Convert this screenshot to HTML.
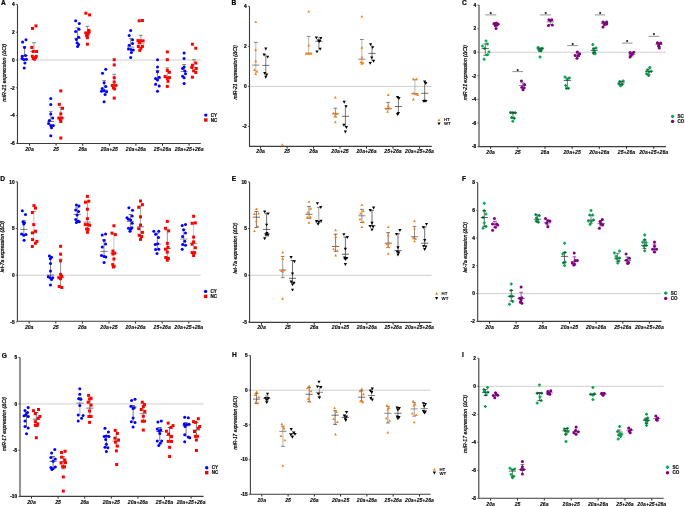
<!DOCTYPE html><html><head><meta charset="utf-8"><style>html,body{margin:0;padding:0;background:#fff;width:685px;height:506px;overflow:hidden}svg{display:block;will-change:transform}</style></head><body>
<svg width="685" height="506" viewBox="0 0 685 506" font-family='"Liberation Sans", sans-serif'>
<rect width="685" height="506" fill="#fff"/>
<line x1="17.5" y1="60.0" x2="200.8" y2="60.0" stroke="#c8c8c8" stroke-width="0.9"/>
<text x="3.5" y="4.8" font-size="6.6" font-weight="bold" text-anchor="middle" fill="#000" stroke="#000" stroke-width="0.2">A</text>
<line x1="15.9" y1="4.4" x2="17.5" y2="4.4" stroke="#3a3a3a" stroke-width="0.8"/>
<text x="14.7" y="6.1" font-size="4.8" font-weight="bold" text-anchor="end" fill="#000" stroke="#000" stroke-width="0.2">4</text>
<line x1="15.9" y1="32.2" x2="17.5" y2="32.2" stroke="#3a3a3a" stroke-width="0.8"/>
<text x="14.7" y="33.9" font-size="4.8" font-weight="bold" text-anchor="end" fill="#000" stroke="#000" stroke-width="0.2">2</text>
<line x1="15.9" y1="60.0" x2="17.5" y2="60.0" stroke="#3a3a3a" stroke-width="0.8"/>
<text x="14.7" y="61.7" font-size="4.8" font-weight="bold" text-anchor="end" fill="#000" stroke="#000" stroke-width="0.2">0</text>
<line x1="15.9" y1="87.8" x2="17.5" y2="87.8" stroke="#3a3a3a" stroke-width="0.8"/>
<text x="14.7" y="89.5" font-size="4.8" font-weight="bold" text-anchor="end" fill="#000" stroke="#000" stroke-width="0.2">-2</text>
<line x1="15.9" y1="115.6" x2="17.5" y2="115.6" stroke="#3a3a3a" stroke-width="0.8"/>
<text x="14.7" y="117.3" font-size="4.8" font-weight="bold" text-anchor="end" fill="#000" stroke="#000" stroke-width="0.2">-4</text>
<line x1="15.9" y1="143.3" x2="17.5" y2="143.3" stroke="#3a3a3a" stroke-width="0.8"/>
<text x="14.7" y="145.0" font-size="4.8" font-weight="bold" text-anchor="end" fill="#000" stroke="#000" stroke-width="0.2">-6</text>
<line x1="29.5" y1="143.5" x2="29.5" y2="145.7" stroke="#222" stroke-width="1.0"/>
<text x="29.5" y="150.6" font-size="5.15" font-weight="bold" font-style="italic" text-anchor="middle" fill="#000" stroke="#000" stroke-width="0.08">20a</text>
<line x1="56.1" y1="143.5" x2="56.1" y2="145.7" stroke="#222" stroke-width="1.0"/>
<text x="56.1" y="150.6" font-size="5.15" font-weight="bold" font-style="italic" text-anchor="middle" fill="#000" stroke="#000" stroke-width="0.08">25</text>
<line x1="82.7" y1="143.5" x2="82.7" y2="145.7" stroke="#222" stroke-width="1.0"/>
<text x="82.7" y="150.6" font-size="5.15" font-weight="bold" font-style="italic" text-anchor="middle" fill="#000" stroke="#000" stroke-width="0.08">26a</text>
<line x1="109.3" y1="143.5" x2="109.3" y2="145.7" stroke="#222" stroke-width="1.0"/>
<text x="109.3" y="150.6" font-size="5.15" font-weight="bold" font-style="italic" text-anchor="middle" fill="#000" stroke="#000" stroke-width="0.08">20a+25</text>
<line x1="135.9" y1="143.5" x2="135.9" y2="145.7" stroke="#222" stroke-width="1.0"/>
<text x="135.9" y="150.6" font-size="5.15" font-weight="bold" font-style="italic" text-anchor="middle" fill="#000" stroke="#000" stroke-width="0.08">20a+26a</text>
<line x1="162.5" y1="143.5" x2="162.5" y2="145.7" stroke="#222" stroke-width="1.0"/>
<text x="162.5" y="150.6" font-size="5.15" font-weight="bold" font-style="italic" text-anchor="middle" fill="#000" stroke="#000" stroke-width="0.08">25+26a</text>
<line x1="189.1" y1="143.5" x2="189.1" y2="145.7" stroke="#222" stroke-width="1.0"/>
<text x="189.1" y="150.6" font-size="5.15" font-weight="bold" font-style="italic" text-anchor="middle" fill="#000" stroke="#000" stroke-width="0.08">20a+25+26a</text>
<path d="M17.50 4.4V143.50H200.8" fill="none" stroke="#3c3c3c" stroke-width="1.1"/>
<text transform="translate(6.0,72.7) rotate(-90)" x="-29.0" y="0" font-size="5.30" font-style="italic" font-weight="normal" textLength="58.0" lengthAdjust="spacingAndGlyphs" fill="#000" stroke="#000" stroke-width="0.22">miR-21 expression (ΔCt)</text>
<circle cx="205.8" cy="115.1" r="1.70" fill="#0000ff"/>
<rect x="204.1" y="118.3" width="3.4" height="3.4" fill="#ff0000"/>
<text x="210.8" y="116.6" font-size="4.5" font-weight="bold" fill="#111" stroke="#111" stroke-width="0.2">CY</text>
<text x="210.8" y="121.6" font-size="4.5" font-weight="bold" fill="#111" stroke="#111" stroke-width="0.2">NC</text>
<path d="M24.5 46.5V55.5" stroke="#555" stroke-width="0.65" fill="none"/>
<path d="M20.9 55.5H28.1M22.6 46.5H26.4" stroke="#555" stroke-width="0.7" fill="none"/>
<circle cx="22.6" cy="42.0" r="1.52" fill="#0000ff"/>
<circle cx="26.0" cy="39.8" r="1.52" fill="#0000ff"/>
<circle cx="24.5" cy="47.5" r="1.52" fill="#0000ff"/>
<circle cx="22.3" cy="56.3" r="1.52" fill="#0000ff"/>
<circle cx="25.5" cy="55.6" r="1.52" fill="#0000ff"/>
<circle cx="22.0" cy="58.5" r="1.52" fill="#0000ff"/>
<circle cx="23.8" cy="59.6" r="1.52" fill="#0000ff"/>
<circle cx="26.4" cy="59.2" r="1.52" fill="#0000ff"/>
<circle cx="24.9" cy="62.9" r="1.52" fill="#0000ff"/>
<circle cx="24.2" cy="68.0" r="1.52" fill="#0000ff"/>
<path d="M34.0 42.7V51.5" stroke="#777" stroke-width="0.7" fill="none"/>
<path d="M30.4 51.5H37.6M32.1 42.7H35.9" stroke="#555" stroke-width="0.7" fill="none"/>
<rect x="31.0" y="27.0" width="3.0" height="3.0" fill="#ff0000"/>
<rect x="34.4" y="24.4" width="3.0" height="3.0" fill="#ff0000"/>
<rect x="30.3" y="46.0" width="3.0" height="3.0" fill="#ff0000"/>
<rect x="31.8" y="50.0" width="3.0" height="3.0" fill="#ff0000"/>
<rect x="35.1" y="50.0" width="3.0" height="3.0" fill="#ff0000"/>
<rect x="30.8" y="54.8" width="3.0" height="3.0" fill="#ff0000"/>
<rect x="34.7" y="54.8" width="3.0" height="3.0" fill="#ff0000"/>
<rect x="31.8" y="57.0" width="3.0" height="3.0" fill="#ff0000"/>
<rect x="33.2" y="57.7" width="3.0" height="3.0" fill="#ff0000"/>
<rect x="34.0" y="56.0" width="3.0" height="3.0" fill="#ff0000"/>
<path d="M50.8 111.7V121.5" stroke="#555" stroke-width="0.65" fill="none"/>
<path d="M47.2 121.5H54.4M48.9 111.7H52.7" stroke="#555" stroke-width="0.7" fill="none"/>
<circle cx="50.8" cy="98.5" r="1.52" fill="#0000ff"/>
<circle cx="50.8" cy="104.4" r="1.52" fill="#0000ff"/>
<circle cx="50.8" cy="113.9" r="1.52" fill="#0000ff"/>
<circle cx="52.7" cy="118.0" r="1.52" fill="#0000ff"/>
<circle cx="49.4" cy="120.4" r="1.52" fill="#0000ff"/>
<circle cx="48.6" cy="123.4" r="1.52" fill="#0000ff"/>
<circle cx="50.8" cy="125.6" r="1.52" fill="#0000ff"/>
<circle cx="53.3" cy="125.6" r="1.52" fill="#0000ff"/>
<circle cx="51.5" cy="127.7" r="1.52" fill="#0000ff"/>
<circle cx="50.8" cy="135.8" r="1.52" fill="#0000ff"/>
<path d="M60.8 107.3V118.0" stroke="#777" stroke-width="0.7" fill="none"/>
<path d="M57.2 118.0H64.4M58.9 107.3H62.7" stroke="#555" stroke-width="0.7" fill="none"/>
<rect x="59.3" y="89.4" width="3.0" height="3.0" fill="#ff0000"/>
<rect x="57.8" y="102.9" width="3.0" height="3.0" fill="#ff0000"/>
<rect x="61.0" y="106.8" width="3.0" height="3.0" fill="#ff0000"/>
<rect x="59.3" y="112.4" width="3.0" height="3.0" fill="#ff0000"/>
<rect x="57.4" y="116.5" width="3.0" height="3.0" fill="#ff0000"/>
<rect x="60.3" y="116.5" width="3.0" height="3.0" fill="#ff0000"/>
<rect x="58.8" y="118.2" width="3.0" height="3.0" fill="#ff0000"/>
<rect x="59.3" y="120.0" width="3.0" height="3.0" fill="#ff0000"/>
<rect x="59.3" y="136.5" width="3.0" height="3.0" fill="#ff0000"/>
<path d="M77.5 27.8V38.3" stroke="#555" stroke-width="0.65" fill="none"/>
<path d="M73.9 38.3H81.1M75.6 27.8H79.4" stroke="#555" stroke-width="0.7" fill="none"/>
<circle cx="75.7" cy="20.8" r="1.52" fill="#0000ff"/>
<circle cx="79.3" cy="23.4" r="1.52" fill="#0000ff"/>
<circle cx="79.0" cy="29.2" r="1.52" fill="#0000ff"/>
<circle cx="75.7" cy="31.4" r="1.52" fill="#0000ff"/>
<circle cx="78.6" cy="37.3" r="1.52" fill="#0000ff"/>
<circle cx="76.4" cy="39.5" r="1.52" fill="#0000ff"/>
<circle cx="77.1" cy="42.7" r="1.52" fill="#0000ff"/>
<circle cx="78.6" cy="44.6" r="1.52" fill="#0000ff"/>
<circle cx="77.6" cy="46.5" r="1.52" fill="#0000ff"/>
<path d="M87.5 26.3V32.9" stroke="#777" stroke-width="0.7" fill="none"/>
<path d="M83.9 32.9H91.1M85.6 26.3H89.4" stroke="#555" stroke-width="0.7" fill="none"/>
<rect x="84.4" y="11.7" width="3.0" height="3.0" fill="#ff0000"/>
<rect x="88.1" y="13.4" width="3.0" height="3.0" fill="#ff0000"/>
<rect x="87.3" y="28.9" width="3.0" height="3.0" fill="#ff0000"/>
<rect x="84.4" y="31.4" width="3.0" height="3.0" fill="#ff0000"/>
<rect x="85.9" y="32.9" width="3.0" height="3.0" fill="#ff0000"/>
<rect x="85.1" y="34.3" width="3.0" height="3.0" fill="#ff0000"/>
<rect x="85.9" y="36.2" width="3.0" height="3.0" fill="#ff0000"/>
<rect x="87.5" y="30.0" width="3.0" height="3.0" fill="#ff0000"/>
<rect x="86.7" y="32.0" width="3.0" height="3.0" fill="#ff0000"/>
<rect x="85.9" y="42.7" width="3.0" height="3.0" fill="#ff0000"/>
<path d="M104.2 80.6V90.1" stroke="#555" stroke-width="0.65" fill="none"/>
<path d="M100.6 90.1H107.8M102.3 80.6H106.1" stroke="#555" stroke-width="0.7" fill="none"/>
<circle cx="105.8" cy="69.2" r="1.52" fill="#0000ff"/>
<circle cx="102.5" cy="73.3" r="1.52" fill="#0000ff"/>
<circle cx="104.1" cy="82.8" r="1.52" fill="#0000ff"/>
<circle cx="105.8" cy="86.4" r="1.52" fill="#0000ff"/>
<circle cx="102.2" cy="88.6" r="1.52" fill="#0000ff"/>
<circle cx="101.5" cy="91.3" r="1.52" fill="#0000ff"/>
<circle cx="104.1" cy="90.8" r="1.52" fill="#0000ff"/>
<circle cx="106.6" cy="91.8" r="1.52" fill="#0000ff"/>
<circle cx="105.1" cy="94.5" r="1.52" fill="#0000ff"/>
<circle cx="104.1" cy="101.8" r="1.52" fill="#0000ff"/>
<path d="M114.2 74.3V85.7" stroke="#777" stroke-width="0.7" fill="none"/>
<path d="M110.6 85.7H117.8M112.3 74.3H116.1" stroke="#555" stroke-width="0.7" fill="none"/>
<rect x="112.7" y="58.2" width="3.0" height="3.0" fill="#ff0000"/>
<rect x="112.7" y="63.4" width="3.0" height="3.0" fill="#ff0000"/>
<rect x="112.7" y="76.2" width="3.0" height="3.0" fill="#ff0000"/>
<rect x="112.7" y="80.5" width="3.0" height="3.0" fill="#ff0000"/>
<rect x="110.9" y="83.9" width="3.0" height="3.0" fill="#ff0000"/>
<rect x="114.3" y="83.9" width="3.0" height="3.0" fill="#ff0000"/>
<rect x="112.0" y="86.4" width="3.0" height="3.0" fill="#ff0000"/>
<rect x="113.1" y="87.4" width="3.0" height="3.0" fill="#ff0000"/>
<rect x="112.7" y="96.6" width="3.0" height="3.0" fill="#ff0000"/>
<path d="M130.7 38.7V47.1" stroke="#555" stroke-width="0.65" fill="none"/>
<path d="M127.1 47.1H134.3M128.8 38.7H132.6" stroke="#555" stroke-width="0.7" fill="none"/>
<circle cx="130.7" cy="30.4" r="1.52" fill="#0000ff"/>
<circle cx="129.2" cy="35.5" r="1.52" fill="#0000ff"/>
<circle cx="132.5" cy="39.8" r="1.52" fill="#0000ff"/>
<circle cx="132.5" cy="43.6" r="1.52" fill="#0000ff"/>
<circle cx="129.2" cy="45.3" r="1.52" fill="#0000ff"/>
<circle cx="128.5" cy="49.0" r="1.52" fill="#0000ff"/>
<circle cx="131.0" cy="49.4" r="1.52" fill="#0000ff"/>
<circle cx="133.3" cy="50.0" r="1.52" fill="#0000ff"/>
<circle cx="131.4" cy="52.6" r="1.52" fill="#0000ff"/>
<circle cx="130.7" cy="57.5" r="1.52" fill="#0000ff"/>
<path d="M140.8 35.4V43.9" stroke="#777" stroke-width="0.7" fill="none"/>
<path d="M137.2 43.9H144.4M138.9 35.4H142.7" stroke="#555" stroke-width="0.7" fill="none"/>
<rect x="137.7" y="19.3" width="3.0" height="3.0" fill="#ff0000"/>
<rect x="140.9" y="19.0" width="3.0" height="3.0" fill="#ff0000"/>
<rect x="136.5" y="39.1" width="3.0" height="3.0" fill="#ff0000"/>
<rect x="139.1" y="39.4" width="3.0" height="3.0" fill="#ff0000"/>
<rect x="141.6" y="39.4" width="3.0" height="3.0" fill="#ff0000"/>
<rect x="138.0" y="41.2" width="3.0" height="3.0" fill="#ff0000"/>
<rect x="136.8" y="45.0" width="3.0" height="3.0" fill="#ff0000"/>
<rect x="140.9" y="45.0" width="3.0" height="3.0" fill="#ff0000"/>
<rect x="139.4" y="46.7" width="3.0" height="3.0" fill="#ff0000"/>
<rect x="138.3" y="48.9" width="3.0" height="3.0" fill="#ff0000"/>
<path d="M157.5 70.4V78.7" stroke="#555" stroke-width="0.65" fill="none"/>
<path d="M153.9 78.7H161.1M155.6 70.4H159.4" stroke="#555" stroke-width="0.7" fill="none"/>
<circle cx="157.5" cy="59.7" r="1.52" fill="#0000ff"/>
<circle cx="157.5" cy="67.0" r="1.52" fill="#0000ff"/>
<circle cx="157.5" cy="71.8" r="1.52" fill="#0000ff"/>
<circle cx="155.6" cy="78.4" r="1.52" fill="#0000ff"/>
<circle cx="159.2" cy="77.2" r="1.52" fill="#0000ff"/>
<circle cx="157.5" cy="79.9" r="1.52" fill="#0000ff"/>
<circle cx="155.6" cy="84.2" r="1.52" fill="#0000ff"/>
<circle cx="159.2" cy="86.1" r="1.52" fill="#0000ff"/>
<circle cx="157.5" cy="91.3" r="1.52" fill="#0000ff"/>
<path d="M167.3 67.9V76.9" stroke="#777" stroke-width="0.7" fill="none"/>
<path d="M163.7 76.9H170.9M165.4 67.9H169.2" stroke="#555" stroke-width="0.7" fill="none"/>
<rect x="165.8" y="50.4" width="3.0" height="3.0" fill="#ff0000"/>
<rect x="165.8" y="58.2" width="3.0" height="3.0" fill="#ff0000"/>
<rect x="165.8" y="68.9" width="3.0" height="3.0" fill="#ff0000"/>
<rect x="167.9" y="70.8" width="3.0" height="3.0" fill="#ff0000"/>
<rect x="163.6" y="75.1" width="3.0" height="3.0" fill="#ff0000"/>
<rect x="167.9" y="76.2" width="3.0" height="3.0" fill="#ff0000"/>
<rect x="165.8" y="76.9" width="3.0" height="3.0" fill="#ff0000"/>
<rect x="166.5" y="79.8" width="3.0" height="3.0" fill="#ff0000"/>
<rect x="165.8" y="84.9" width="3.0" height="3.0" fill="#ff0000"/>
<path d="M184.1 64.5V71.4" stroke="#555" stroke-width="0.65" fill="none"/>
<path d="M180.5 71.4H187.7M182.2 64.5H186.0" stroke="#555" stroke-width="0.7" fill="none"/>
<circle cx="184.1" cy="53.1" r="1.52" fill="#0000ff"/>
<circle cx="184.1" cy="58.5" r="1.52" fill="#0000ff"/>
<circle cx="184.1" cy="67.0" r="1.52" fill="#0000ff"/>
<circle cx="182.6" cy="68.5" r="1.52" fill="#0000ff"/>
<circle cx="184.8" cy="71.1" r="1.52" fill="#0000ff"/>
<circle cx="185.5" cy="73.7" r="1.52" fill="#0000ff"/>
<circle cx="182.6" cy="76.2" r="1.52" fill="#0000ff"/>
<circle cx="184.1" cy="77.7" r="1.52" fill="#0000ff"/>
<circle cx="184.1" cy="83.5" r="1.52" fill="#0000ff"/>
<path d="M194.0 59.7V67.4" stroke="#777" stroke-width="0.7" fill="none"/>
<path d="M190.4 67.4H197.6M192.1 59.7H195.9" stroke="#555" stroke-width="0.7" fill="none"/>
<rect x="190.9" y="42.7" width="3.0" height="3.0" fill="#ff0000"/>
<rect x="194.3" y="46.7" width="3.0" height="3.0" fill="#ff0000"/>
<rect x="194.3" y="61.5" width="3.0" height="3.0" fill="#ff0000"/>
<rect x="190.9" y="63.7" width="3.0" height="3.0" fill="#ff0000"/>
<rect x="190.3" y="65.9" width="3.0" height="3.0" fill="#ff0000"/>
<rect x="194.7" y="67.0" width="3.0" height="3.0" fill="#ff0000"/>
<rect x="192.1" y="69.3" width="3.0" height="3.0" fill="#ff0000"/>
<rect x="194.3" y="71.0" width="3.0" height="3.0" fill="#ff0000"/>
<rect x="190.9" y="75.7" width="3.0" height="3.0" fill="#ff0000"/>
<line x1="249.5" y1="86.4" x2="431.8" y2="86.4" stroke="#c8c8c8" stroke-width="0.9"/>
<text x="234" y="4.5" font-size="6.6" font-weight="bold" text-anchor="middle" fill="#000" stroke="#000" stroke-width="0.2">B</text>
<line x1="247.9" y1="6.4" x2="249.5" y2="6.4" stroke="#3a3a3a" stroke-width="0.8"/>
<text x="246.7" y="8.1" font-size="4.8" font-weight="bold" text-anchor="end" fill="#000" stroke="#000" stroke-width="0.2">4</text>
<line x1="247.9" y1="46.4" x2="249.5" y2="46.4" stroke="#3a3a3a" stroke-width="0.8"/>
<text x="246.7" y="48.1" font-size="4.8" font-weight="bold" text-anchor="end" fill="#000" stroke="#000" stroke-width="0.2">2</text>
<line x1="247.9" y1="86.4" x2="249.5" y2="86.4" stroke="#3a3a3a" stroke-width="0.8"/>
<text x="246.7" y="88.1" font-size="4.8" font-weight="bold" text-anchor="end" fill="#000" stroke="#000" stroke-width="0.2">0</text>
<line x1="247.9" y1="126.4" x2="249.5" y2="126.4" stroke="#3a3a3a" stroke-width="0.8"/>
<text x="246.7" y="128.1" font-size="4.8" font-weight="bold" text-anchor="end" fill="#000" stroke="#000" stroke-width="0.2">-2</text>
<line x1="260.6" y1="146.4" x2="260.6" y2="148.6" stroke="#222" stroke-width="1.0"/>
<text x="260.6" y="153.2" font-size="5.15" font-weight="bold" font-style="italic" text-anchor="middle" fill="#000" stroke="#000" stroke-width="0.08">20a</text>
<line x1="287.1" y1="146.4" x2="287.1" y2="148.6" stroke="#222" stroke-width="1.0"/>
<text x="287.1" y="153.2" font-size="5.15" font-weight="bold" font-style="italic" text-anchor="middle" fill="#000" stroke="#000" stroke-width="0.08">25</text>
<line x1="313.6" y1="146.4" x2="313.6" y2="148.6" stroke="#222" stroke-width="1.0"/>
<text x="313.6" y="153.2" font-size="5.15" font-weight="bold" font-style="italic" text-anchor="middle" fill="#000" stroke="#000" stroke-width="0.08">26a</text>
<line x1="340.0" y1="146.4" x2="340.0" y2="148.6" stroke="#222" stroke-width="1.0"/>
<text x="340.0" y="153.2" font-size="5.15" font-weight="bold" font-style="italic" text-anchor="middle" fill="#000" stroke="#000" stroke-width="0.08">20a+25</text>
<line x1="366.5" y1="146.4" x2="366.5" y2="148.6" stroke="#222" stroke-width="1.0"/>
<text x="366.5" y="153.2" font-size="5.15" font-weight="bold" font-style="italic" text-anchor="middle" fill="#000" stroke="#000" stroke-width="0.08">20a+26a</text>
<line x1="393.0" y1="146.4" x2="393.0" y2="148.6" stroke="#222" stroke-width="1.0"/>
<text x="393.0" y="153.2" font-size="5.15" font-weight="bold" font-style="italic" text-anchor="middle" fill="#000" stroke="#000" stroke-width="0.08">25+26a</text>
<line x1="419.5" y1="146.4" x2="419.5" y2="148.6" stroke="#222" stroke-width="1.0"/>
<text x="419.5" y="153.2" font-size="5.15" font-weight="bold" font-style="italic" text-anchor="middle" fill="#000" stroke="#000" stroke-width="0.08">20a+25+26a</text>
<path d="M249.50 6.4V146.40H431.8" fill="none" stroke="#3c3c3c" stroke-width="1.1"/>
<text transform="translate(236.9,72.3) rotate(-90)" x="-27.1" y="0" font-size="4.96" font-style="italic" font-weight="normal" textLength="54.3" lengthAdjust="spacingAndGlyphs" fill="#000" stroke="#000" stroke-width="0.22">miR-21 expression (ΔCt)</text>
<path d="M439.0 118.2L440.4 120.9L437.6 120.9Z" fill="#ff7f0e"/>
<path d="M439.0 125.3L440.6 122.4L437.4 122.4Z" fill="#000000"/>
<text x="444.0" y="121.2" font-size="4.3" font-weight="bold" fill="#111" stroke="#111" stroke-width="0.1">HT</text>
<text x="444.0" y="125.3" font-size="4.3" font-weight="bold" fill="#111" stroke="#111" stroke-width="0.1">WT</text>
<path d="M255.8 42.4V73.2" stroke="#999" stroke-width="0.7" fill="none"/>
<path d="M252.2 65.1H259.4M253.9 42.4H257.7" stroke="#555" stroke-width="0.7" fill="none"/>
<path d="M255.8 20.4L257.2 23.1L254.4 23.1Z" fill="#ff7f0e"/>
<path d="M255.7 48.2L257.1 50.9L254.2 50.9Z" fill="#ff7f0e"/>
<path d="M255.7 59.6L257.1 62.3L254.2 62.3Z" fill="#ff7f0e"/>
<path d="M254.5 68.2L255.9 70.9L253.1 70.9Z" fill="#ff7f0e"/>
<path d="M257.0 69.8L258.4 72.5L255.6 72.5Z" fill="#ff7f0e"/>
<path d="M255.7 72.3L257.1 75.0L254.2 75.0Z" fill="#ff7f0e"/>
<path d="M265.8 54.0V76.0" stroke="#333" stroke-width="0.65" fill="none"/>
<path d="M262.2 65.4H269.4" stroke="#333" stroke-width="0.7" fill="none"/>
<path d="M265.8 50.5L267.4 47.6L264.2 47.6Z" fill="#000000"/>
<path d="M264.1 56.5L265.7 53.6L262.5 53.6Z" fill="#000000"/>
<path d="M267.7 58.6L269.3 55.7L266.1 55.7Z" fill="#000000"/>
<path d="M264.7 74.8L266.3 71.9L263.1 71.9Z" fill="#000000"/>
<path d="M266.7 76.3L268.3 73.4L265.1 73.4Z" fill="#000000"/>
<path d="M265.8 78.7L267.4 75.8L264.2 75.8Z" fill="#000000"/>
<path d="M282.3 143.2L283.8 145.8L280.9 145.8Z" fill="#ff7f0e"/>
<path d="M308.7 36.4V53.6" stroke="#999" stroke-width="0.7" fill="none"/>
<path d="M305.1 53.2H312.3M306.8 36.4H310.6" stroke="#555" stroke-width="0.7" fill="none"/>
<path d="M308.6 10.0L310.1 12.6L307.2 12.6Z" fill="#ff7f0e"/>
<path d="M308.7 43.8L310.1 46.4L307.2 46.4Z" fill="#ff7f0e"/>
<path d="M306.3 52.1L307.8 54.8L304.9 54.8Z" fill="#ff7f0e"/>
<path d="M308.7 52.3L310.1 55.0L307.2 55.0Z" fill="#ff7f0e"/>
<path d="M311.0 52.1L312.4 54.8L309.6 54.8Z" fill="#ff7f0e"/>
<path d="M318.9 37.5V49.5" stroke="#333" stroke-width="0.65" fill="none"/>
<path d="M315.3 41.3H322.5" stroke="#333" stroke-width="0.7" fill="none"/>
<path d="M316.4 39.5L318.0 36.6L314.8 36.6Z" fill="#000000"/>
<path d="M320.8 40.0L322.4 37.1L319.2 37.1Z" fill="#000000"/>
<path d="M318.5 42.5L320.1 39.6L316.9 39.6Z" fill="#000000"/>
<path d="M319.6 43.0L321.2 40.1L318.0 40.1Z" fill="#000000"/>
<path d="M320.2 50.6L321.8 47.7L318.6 47.7Z" fill="#000000"/>
<path d="M317.0 53.3L318.6 50.4L315.4 50.4Z" fill="#000000"/>
<path d="M335.4 108.2V117.0" stroke="#555" stroke-width="0.65" fill="none"/>
<path d="M331.8 113.8H339.0M333.5 108.2H337.3M333.5 117.0H337.3" stroke="#555" stroke-width="0.7" fill="none"/>
<path d="M335.4 95.8L336.8 98.5L333.9 98.5Z" fill="#ff7f0e"/>
<path d="M333.6 111.6L335.1 114.3L332.2 114.3Z" fill="#ff7f0e"/>
<path d="M336.8 112.3L338.2 115.0L335.4 115.0Z" fill="#ff7f0e"/>
<path d="M335.4 114.0L336.8 116.7L333.9 116.7Z" fill="#ff7f0e"/>
<path d="M335.4 120.6L336.8 123.3L333.9 123.3Z" fill="#ff7f0e"/>
<path d="M345.4 105.3V127.3" stroke="#333" stroke-width="0.65" fill="none"/>
<path d="M341.8 116.3H349.0" stroke="#333" stroke-width="0.7" fill="none"/>
<path d="M344.2 103.7L345.8 100.8L342.6 100.8Z" fill="#000000"/>
<path d="M346.1 108.1L347.7 105.2L344.5 105.2Z" fill="#000000"/>
<path d="M343.9 126.7L345.5 123.8L342.3 123.8Z" fill="#000000"/>
<path d="M346.4 128.9L348.0 126.0L344.8 126.0Z" fill="#000000"/>
<path d="M345.4 133.5L347.0 130.6L343.8 130.6Z" fill="#000000"/>
<path d="M361.9 39.5V62.9" stroke="#999" stroke-width="0.7" fill="none"/>
<path d="M358.3 59.2H365.5M360.0 39.5H363.8" stroke="#555" stroke-width="0.7" fill="none"/>
<path d="M361.9 14.9L363.3 17.6L360.4 17.6Z" fill="#ff7f0e"/>
<path d="M361.9 46.0L363.3 48.7L360.4 48.7Z" fill="#ff7f0e"/>
<path d="M361.9 55.8L363.3 58.5L360.4 58.5Z" fill="#ff7f0e"/>
<path d="M361.0 60.6L362.4 63.3L359.6 63.3Z" fill="#ff7f0e"/>
<path d="M362.9 61.3L364.3 64.0L361.4 64.0Z" fill="#ff7f0e"/>
<path d="M361.9 62.1L363.3 64.8L360.4 64.8Z" fill="#ff7f0e"/>
<path d="M372.0 45.3V61.4" stroke="#333" stroke-width="0.65" fill="none"/>
<path d="M368.4 53.4H375.6" stroke="#333" stroke-width="0.7" fill="none"/>
<path d="M370.6 46.2L372.2 43.3L369.0 43.3Z" fill="#000000"/>
<path d="M372.7 49.1L374.3 46.2L371.1 46.2Z" fill="#000000"/>
<path d="M371.7 59.3L373.3 56.4L370.1 56.4Z" fill="#000000"/>
<path d="M370.2 64.8L371.8 61.9L368.6 61.9Z" fill="#000000"/>
<path d="M373.6 62.7L375.2 59.8L372.0 59.8Z" fill="#000000"/>
<path d="M388.2 102.4V110.4" stroke="#555" stroke-width="0.65" fill="none"/>
<path d="M384.6 108.5H391.8M386.3 102.4H390.1" stroke="#555" stroke-width="0.7" fill="none"/>
<path d="M388.2 93.3L389.6 96.0L386.8 96.0Z" fill="#ff7f0e"/>
<path d="M388.2 104.6L389.6 107.3L386.8 107.3Z" fill="#ff7f0e"/>
<path d="M386.3 107.0L387.8 109.7L384.9 109.7Z" fill="#ff7f0e"/>
<path d="M389.9 106.8L391.3 109.4L388.4 109.4Z" fill="#ff7f0e"/>
<path d="M387.5 110.0L388.9 112.7L386.1 112.7Z" fill="#ff7f0e"/>
<path d="M398.4 97.3V114.4" stroke="#333" stroke-width="0.65" fill="none"/>
<path d="M394.8 106.5H402.0" stroke="#333" stroke-width="0.7" fill="none"/>
<path d="M397.5 98.9L399.1 96.0L395.9 96.0Z" fill="#000000"/>
<path d="M399.0 99.9L400.6 97.0L397.4 97.0Z" fill="#000000"/>
<path d="M398.4 115.0L400.0 112.1L396.8 112.1Z" fill="#000000"/>
<path d="M397.5 116.0L399.1 113.1L395.9 113.1Z" fill="#000000"/>
<path d="M414.9 79.7V95.8" stroke="#999" stroke-width="0.7" fill="none"/>
<path d="M411.3 93.6H418.5M413.0 79.7H416.8" stroke="#555" stroke-width="0.7" fill="none"/>
<path d="M413.3 77.5L414.8 80.2L411.9 80.2Z" fill="#ff7f0e"/>
<path d="M416.5 77.5L417.9 80.2L415.1 80.2Z" fill="#ff7f0e"/>
<path d="M413.3 91.8L414.8 94.5L411.9 94.5Z" fill="#ff7f0e"/>
<path d="M416.0 92.5L417.4 95.1L414.6 95.1Z" fill="#ff7f0e"/>
<path d="M417.7 93.3L419.1 96.0L416.2 96.0Z" fill="#ff7f0e"/>
<path d="M413.3 97.8L414.8 100.4L411.9 100.4Z" fill="#ff7f0e"/>
<path d="M424.7 83.4V100.9" stroke="#333" stroke-width="0.65" fill="none"/>
<path d="M421.1 93.3H428.3" stroke="#333" stroke-width="0.7" fill="none"/>
<path d="M424.7 83.5L426.3 80.6L423.1 80.6Z" fill="#000000"/>
<path d="M425.8 85.0L427.4 82.1L424.2 82.1Z" fill="#000000"/>
<path d="M424.7 102.6L426.3 99.7L423.1 99.7Z" fill="#000000"/>
<path d="M423.6 102.8L425.2 99.9L422.0 99.9Z" fill="#000000"/>
<path d="M425.9 102.8L427.5 99.9L424.3 99.9Z" fill="#000000"/>
<line x1="479.0" y1="52.2" x2="666.0" y2="52.2" stroke="#c8c8c8" stroke-width="0.9"/>
<text x="464.3" y="5.0" font-size="6.6" font-weight="bold" text-anchor="middle" fill="#000" stroke="#000" stroke-width="0.2">C</text>
<line x1="477.4" y1="5.0" x2="479.0" y2="5.0" stroke="#5a5a5a" stroke-width="0.8"/>
<text x="476.2" y="6.7" font-size="4.8" font-weight="bold" text-anchor="end" fill="#000" stroke="#000" stroke-width="0.2">4</text>
<line x1="477.4" y1="28.6" x2="479.0" y2="28.6" stroke="#5a5a5a" stroke-width="0.8"/>
<text x="476.2" y="30.3" font-size="4.8" font-weight="bold" text-anchor="end" fill="#000" stroke="#000" stroke-width="0.2">2</text>
<line x1="477.4" y1="52.2" x2="479.0" y2="52.2" stroke="#5a5a5a" stroke-width="0.8"/>
<text x="476.2" y="53.9" font-size="4.8" font-weight="bold" text-anchor="end" fill="#000" stroke="#000" stroke-width="0.2">0</text>
<line x1="477.4" y1="75.8" x2="479.0" y2="75.8" stroke="#5a5a5a" stroke-width="0.8"/>
<text x="476.2" y="77.5" font-size="4.8" font-weight="bold" text-anchor="end" fill="#000" stroke="#000" stroke-width="0.2">-2</text>
<line x1="477.4" y1="99.4" x2="479.0" y2="99.4" stroke="#5a5a5a" stroke-width="0.8"/>
<text x="476.2" y="101.1" font-size="4.8" font-weight="bold" text-anchor="end" fill="#000" stroke="#000" stroke-width="0.2">-4</text>
<line x1="477.4" y1="123.0" x2="479.0" y2="123.0" stroke="#5a5a5a" stroke-width="0.8"/>
<text x="476.2" y="124.7" font-size="4.8" font-weight="bold" text-anchor="end" fill="#000" stroke="#000" stroke-width="0.2">-6</text>
<line x1="477.4" y1="146.6" x2="479.0" y2="146.6" stroke="#5a5a5a" stroke-width="0.8"/>
<text x="476.2" y="148.3" font-size="4.8" font-weight="bold" text-anchor="end" fill="#000" stroke="#000" stroke-width="0.2">-8</text>
<line x1="490.6" y1="146.6" x2="490.6" y2="148.8" stroke="#222" stroke-width="1.0"/>
<text x="490.6" y="153.9" font-size="5.15" font-weight="bold" font-style="italic" text-anchor="middle" fill="#000" stroke="#000" stroke-width="0.08">20a</text>
<line x1="517.8" y1="146.6" x2="517.8" y2="148.8" stroke="#222" stroke-width="1.0"/>
<text x="517.8" y="153.9" font-size="5.15" font-weight="bold" font-style="italic" text-anchor="middle" fill="#000" stroke="#000" stroke-width="0.08">25</text>
<line x1="545.0" y1="146.6" x2="545.0" y2="148.8" stroke="#222" stroke-width="1.0"/>
<text x="545.0" y="153.9" font-size="5.15" font-weight="bold" font-style="italic" text-anchor="middle" fill="#000" stroke="#000" stroke-width="0.08">26a</text>
<line x1="572.1" y1="146.6" x2="572.1" y2="148.8" stroke="#222" stroke-width="1.0"/>
<text x="572.1" y="153.9" font-size="5.15" font-weight="bold" font-style="italic" text-anchor="middle" fill="#000" stroke="#000" stroke-width="0.08">20a+25</text>
<line x1="599.3" y1="146.6" x2="599.3" y2="148.8" stroke="#222" stroke-width="1.0"/>
<text x="599.3" y="153.9" font-size="5.15" font-weight="bold" font-style="italic" text-anchor="middle" fill="#000" stroke="#000" stroke-width="0.08">20a+26a</text>
<line x1="626.5" y1="146.6" x2="626.5" y2="148.8" stroke="#222" stroke-width="1.0"/>
<text x="626.5" y="153.9" font-size="5.15" font-weight="bold" font-style="italic" text-anchor="middle" fill="#000" stroke="#000" stroke-width="0.08">25+26a</text>
<line x1="653.7" y1="146.6" x2="653.7" y2="148.8" stroke="#222" stroke-width="1.0"/>
<text x="653.7" y="153.9" font-size="5.15" font-weight="bold" font-style="italic" text-anchor="middle" fill="#000" stroke="#000" stroke-width="0.08">20a+25+26a</text>
<path d="M479.00 5.0V146.60H666.0" fill="none" stroke="#3c3c3c" stroke-width="1.1"/>
<text transform="translate(466.9,72.7) rotate(-90)" x="-27.6" y="0" font-size="5.04" font-style="italic" font-weight="normal" textLength="55.2" lengthAdjust="spacingAndGlyphs" fill="#000" stroke="#000" stroke-width="0.22">miR-21 expression (ΔCt)</text>
<path d="M671.79 114.72h1.61v0.87h0.87v1.61h-0.87v0.87h-1.61v-0.87h-0.87v-1.61h0.87Z" fill="#00a84f"/>
<circle cx="672.6" cy="121.4" r="1.70" fill="#800080"/>
<text x="677.6" y="117.9" font-size="4.5" font-weight="bold" fill="#111" stroke="#111" stroke-width="0.2">SC</text>
<text x="677.6" y="123.0" font-size="4.5" font-weight="bold" fill="#111" stroke="#111" stroke-width="0.2">CO</text>
<path d="M485.3 43.9V55.3" stroke="#333" stroke-width="0.65" fill="none"/>
<path d="M485.28 39.40h1.44v0.78h0.78v1.44h-0.78v0.78h-1.44v-0.78h-0.78v-1.44h0.78Z" fill="#00a84f"/>
<path d="M486.78 42.40h1.44v0.78h0.78v1.44h-0.78v0.78h-1.44v-0.78h-0.78v-1.44h0.78Z" fill="#00a84f"/>
<path d="M481.68 44.60h1.44v0.78h0.78v1.44h-0.78v0.78h-1.44v-0.78h-0.78v-1.44h0.78Z" fill="#00a84f"/>
<path d="M483.88 47.00h1.44v0.78h0.78v1.44h-0.78v0.78h-1.44v-0.78h-0.78v-1.44h0.78Z" fill="#00a84f"/>
<path d="M488.28 50.40h1.44v0.78h0.78v1.44h-0.78v0.78h-1.44v-0.78h-0.78v-1.44h0.78Z" fill="#00a84f"/>
<path d="M486.78 53.30h1.44v0.78h0.78v1.44h-0.78v0.78h-1.44v-0.78h-0.78v-1.44h0.78Z" fill="#00a84f"/>
<path d="M483.38 57.70h1.44v0.78h0.78v1.44h-0.78v0.78h-1.44v-0.78h-0.78v-1.44h0.78Z" fill="#00a84f"/>
<path d="M481.7 48.5H488.9M483.4 43.9H487.2M483.4 55.3H487.2" stroke="#333" stroke-width="0.7" fill="none"/>
<path d="M496.0 23.0V26.0" stroke="#777" stroke-width="0.7" fill="none"/>
<path d="M492.4 24.5H499.6M494.1 23.0H497.9M494.1 26.0H497.9" stroke="#555" stroke-width="0.7" fill="none"/>
<circle cx="494.1" cy="23.4" r="1.52" fill="#800080"/>
<circle cx="496.3" cy="23.1" r="1.52" fill="#800080"/>
<circle cx="498.2" cy="24.1" r="1.52" fill="#800080"/>
<circle cx="495.3" cy="25.6" r="1.52" fill="#800080"/>
<circle cx="497.0" cy="25.1" r="1.52" fill="#800080"/>
<circle cx="496.0" cy="28.5" r="1.52" fill="#800080"/>
<path d="M513.0 112.3V118.2" stroke="#222" stroke-width="0.65" fill="none"/>
<path d="M509.78 110.90h1.44v0.78h0.78v1.44h-0.78v0.78h-1.44v-0.78h-0.78v-1.44h0.78Z" fill="#00a84f"/>
<path d="M512.08 111.20h1.44v0.78h0.78v1.44h-0.78v0.78h-1.44v-0.78h-0.78v-1.44h0.78Z" fill="#00a84f"/>
<path d="M514.58 111.20h1.44v0.78h0.78v1.44h-0.78v0.78h-1.44v-0.78h-0.78v-1.44h0.78Z" fill="#00a84f"/>
<path d="M510.88 116.00h1.44v0.78h0.78v1.44h-0.78v0.78h-1.44v-0.78h-0.78v-1.44h0.78Z" fill="#00a84f"/>
<path d="M513.58 116.70h1.44v0.78h0.78v1.44h-0.78v0.78h-1.44v-0.78h-0.78v-1.44h0.78Z" fill="#00a84f"/>
<path d="M512.08 119.70h1.44v0.78h0.78v1.44h-0.78v0.78h-1.44v-0.78h-0.78v-1.44h0.78Z" fill="#00a84f"/>
<path d="M509.4 113.1H516.6M511.1 112.3H514.9M511.1 118.2H514.9" stroke="#222" stroke-width="0.7" fill="none"/>
<path d="M522.6 82.9V88.0" stroke="#777" stroke-width="0.7" fill="none"/>
<path d="M519.0 85.5H526.2M520.7 82.9H524.5M520.7 88.0H524.5" stroke="#555" stroke-width="0.7" fill="none"/>
<circle cx="521.4" cy="81.0" r="1.52" fill="#800080"/>
<circle cx="524.5" cy="84.6" r="1.52" fill="#800080"/>
<circle cx="521.9" cy="87.3" r="1.52" fill="#800080"/>
<circle cx="524.1" cy="87.8" r="1.52" fill="#800080"/>
<circle cx="523.0" cy="89.7" r="1.52" fill="#800080"/>
<path d="M540.1 48.0V51.0" stroke="#222" stroke-width="0.65" fill="none"/>
<path d="M537.28 46.00h1.44v0.78h0.78v1.44h-0.78v0.78h-1.44v-0.78h-0.78v-1.44h0.78Z" fill="#00a84f"/>
<path d="M541.58 46.70h1.44v0.78h0.78v1.44h-0.78v0.78h-1.44v-0.78h-0.78v-1.44h0.78Z" fill="#00a84f"/>
<path d="M539.38 48.20h1.44v0.78h0.78v1.44h-0.78v0.78h-1.44v-0.78h-0.78v-1.44h0.78Z" fill="#00a84f"/>
<path d="M540.48 49.40h1.44v0.78h0.78v1.44h-0.78v0.78h-1.44v-0.78h-0.78v-1.44h0.78Z" fill="#00a84f"/>
<path d="M538.38 48.90h1.44v0.78h0.78v1.44h-0.78v0.78h-1.44v-0.78h-0.78v-1.44h0.78Z" fill="#00a84f"/>
<path d="M539.38 55.50h1.44v0.78h0.78v1.44h-0.78v0.78h-1.44v-0.78h-0.78v-1.44h0.78Z" fill="#00a84f"/>
<path d="M536.5 49.0H543.7M538.2 48.0H542.0M538.2 51.0H542.0" stroke="#222" stroke-width="0.7" fill="none"/>
<path d="M550.4 19.7V24.5" stroke="#777" stroke-width="0.7" fill="none"/>
<path d="M546.8 21.9H554.0M548.5 19.7H552.3M548.5 24.5H552.3" stroke="#555" stroke-width="0.7" fill="none"/>
<circle cx="548.9" cy="19.7" r="1.52" fill="#800080"/>
<circle cx="551.8" cy="19.7" r="1.52" fill="#800080"/>
<circle cx="550.4" cy="20.5" r="1.52" fill="#800080"/>
<circle cx="548.5" cy="25.6" r="1.52" fill="#800080"/>
<circle cx="552.3" cy="25.1" r="1.52" fill="#800080"/>
<path d="M567.4 78.0V88.7" stroke="#333" stroke-width="0.65" fill="none"/>
<path d="M564.28 75.50h1.44v0.78h0.78v1.44h-0.78v0.78h-1.44v-0.78h-0.78v-1.44h0.78Z" fill="#00a84f"/>
<path d="M568.68 76.50h1.44v0.78h0.78v1.44h-0.78v0.78h-1.44v-0.78h-0.78v-1.44h0.78Z" fill="#00a84f"/>
<path d="M566.48 78.00h1.44v0.78h0.78v1.44h-0.78v0.78h-1.44v-0.78h-0.78v-1.44h0.78Z" fill="#00a84f"/>
<path d="M564.98 83.90h1.44v0.78h0.78v1.44h-0.78v0.78h-1.44v-0.78h-0.78v-1.44h0.78Z" fill="#00a84f"/>
<path d="M565.78 86.80h1.44v0.78h0.78v1.44h-0.78v0.78h-1.44v-0.78h-0.78v-1.44h0.78Z" fill="#00a84f"/>
<path d="M567.68 86.80h1.44v0.78h0.78v1.44h-0.78v0.78h-1.44v-0.78h-0.78v-1.44h0.78Z" fill="#00a84f"/>
<path d="M563.8 80.5H571.0M565.5 78.0H569.3M565.5 88.7H569.3" stroke="#333" stroke-width="0.7" fill="none"/>
<path d="M577.4 53.0V56.5" stroke="#777" stroke-width="0.7" fill="none"/>
<path d="M573.8 54.8H581.0M575.5 53.0H579.3M575.5 56.5H579.3" stroke="#555" stroke-width="0.7" fill="none"/>
<circle cx="577.4" cy="51.9" r="1.52" fill="#800080"/>
<circle cx="579.6" cy="53.8" r="1.52" fill="#800080"/>
<circle cx="575.2" cy="55.6" r="1.52" fill="#800080"/>
<circle cx="578.5" cy="55.8" r="1.52" fill="#800080"/>
<circle cx="577.0" cy="58.2" r="1.52" fill="#800080"/>
<path d="M594.2 48.2V52.6" stroke="#222" stroke-width="0.65" fill="none"/>
<path d="M592.08 43.10h1.44v0.78h0.78v1.44h-0.78v0.78h-1.44v-0.78h-0.78v-1.44h0.78Z" fill="#00a84f"/>
<path d="M595.28 46.50h1.44v0.78h0.78v1.44h-0.78v0.78h-1.44v-0.78h-0.78v-1.44h0.78Z" fill="#00a84f"/>
<path d="M592.78 47.50h1.44v0.78h0.78v1.44h-0.78v0.78h-1.44v-0.78h-0.78v-1.44h0.78Z" fill="#00a84f"/>
<path d="M593.48 50.00h1.44v0.78h0.78v1.44h-0.78v0.78h-1.44v-0.78h-0.78v-1.44h0.78Z" fill="#00a84f"/>
<path d="M592.78 51.90h1.44v0.78h0.78v1.44h-0.78v0.78h-1.44v-0.78h-0.78v-1.44h0.78Z" fill="#00a84f"/>
<path d="M594.28 52.30h1.44v0.78h0.78v1.44h-0.78v0.78h-1.44v-0.78h-0.78v-1.44h0.78Z" fill="#00a84f"/>
<path d="M590.6 50.4H597.8M592.3 48.2H596.1M592.3 52.6H596.1" stroke="#222" stroke-width="0.7" fill="none"/>
<path d="M604.6 22.0V25.0" stroke="#777" stroke-width="0.7" fill="none"/>
<path d="M601.0 23.5H608.2M602.7 22.0H606.5M602.7 25.0H606.5" stroke="#555" stroke-width="0.7" fill="none"/>
<circle cx="603.0" cy="21.9" r="1.52" fill="#800080"/>
<circle cx="606.7" cy="21.9" r="1.52" fill="#800080"/>
<circle cx="605.2" cy="23.4" r="1.52" fill="#800080"/>
<circle cx="604.5" cy="24.6" r="1.52" fill="#800080"/>
<circle cx="606.7" cy="24.1" r="1.52" fill="#800080"/>
<circle cx="603.0" cy="27.0" r="1.52" fill="#800080"/>
<path d="M621.2 81.5V84.5" stroke="#333" stroke-width="0.65" fill="none"/>
<path d="M619.08 79.90h1.44v0.78h0.78v1.44h-0.78v0.78h-1.44v-0.78h-0.78v-1.44h0.78Z" fill="#00a84f"/>
<path d="M622.48 79.50h1.44v0.78h0.78v1.44h-0.78v0.78h-1.44v-0.78h-0.78v-1.44h0.78Z" fill="#00a84f"/>
<path d="M618.08 82.40h1.44v0.78h0.78v1.44h-0.78v0.78h-1.44v-0.78h-0.78v-1.44h0.78Z" fill="#00a84f"/>
<path d="M621.58 82.90h1.44v0.78h0.78v1.44h-0.78v0.78h-1.44v-0.78h-0.78v-1.44h0.78Z" fill="#00a84f"/>
<path d="M619.88 84.30h1.44v0.78h0.78v1.44h-0.78v0.78h-1.44v-0.78h-0.78v-1.44h0.78Z" fill="#00a84f"/>
<path d="M617.6 82.9H624.8M619.3 81.5H623.1M619.3 84.5H623.1" stroke="#333" stroke-width="0.7" fill="none"/>
<path d="M631.8 53.0V56.0" stroke="#777" stroke-width="0.7" fill="none"/>
<path d="M628.2 54.3H635.4M629.9 53.0H633.7M629.9 56.0H633.7" stroke="#555" stroke-width="0.7" fill="none"/>
<circle cx="630.1" cy="52.6" r="1.52" fill="#800080"/>
<circle cx="633.7" cy="52.3" r="1.52" fill="#800080"/>
<circle cx="632.3" cy="54.1" r="1.52" fill="#800080"/>
<circle cx="630.8" cy="55.6" r="1.52" fill="#800080"/>
<circle cx="630.1" cy="57.0" r="1.52" fill="#800080"/>
<path d="M648.6 69.0V74.9" stroke="#333" stroke-width="0.65" fill="none"/>
<path d="M649.08 66.00h1.44v0.78h0.78v1.44h-0.78v0.78h-1.44v-0.78h-0.78v-1.44h0.78Z" fill="#00a84f"/>
<path d="M646.48 68.70h1.44v0.78h0.78v1.44h-0.78v0.78h-1.44v-0.78h-0.78v-1.44h0.78Z" fill="#00a84f"/>
<path d="M650.58 69.70h1.44v0.78h0.78v1.44h-0.78v0.78h-1.44v-0.78h-0.78v-1.44h0.78Z" fill="#00a84f"/>
<path d="M648.38 70.40h1.44v0.78h0.78v1.44h-0.78v0.78h-1.44v-0.78h-0.78v-1.44h0.78Z" fill="#00a84f"/>
<path d="M645.88 72.20h1.44v0.78h0.78v1.44h-0.78v0.78h-1.44v-0.78h-0.78v-1.44h0.78Z" fill="#00a84f"/>
<path d="M647.88 74.10h1.44v0.78h0.78v1.44h-0.78v0.78h-1.44v-0.78h-0.78v-1.44h0.78Z" fill="#00a84f"/>
<path d="M645.0 71.6H652.2M646.7 69.0H650.5M646.7 74.9H650.5" stroke="#333" stroke-width="0.7" fill="none"/>
<path d="M659.0 43.0V46.5" stroke="#777" stroke-width="0.7" fill="none"/>
<path d="M655.4 44.5H662.6M657.1 43.0H660.9M657.1 46.5H660.9" stroke="#555" stroke-width="0.7" fill="none"/>
<circle cx="657.4" cy="42.7" r="1.52" fill="#800080"/>
<circle cx="660.8" cy="43.1" r="1.52" fill="#800080"/>
<circle cx="659.0" cy="43.9" r="1.52" fill="#800080"/>
<circle cx="658.6" cy="46.1" r="1.52" fill="#800080"/>
<circle cx="659.3" cy="48.0" r="1.52" fill="#800080"/>
<line x1="485.3" y1="14.9" x2="496.3" y2="14.9" stroke="#888" stroke-width="0.9"/>
<text x="490.8" y="15.8" font-size="4.8" font-weight="bold" text-anchor="middle" fill="#000" stroke="#000" stroke-width="0.2">*</text>
<line x1="512.4" y1="71.6" x2="523.0" y2="71.6" stroke="#888" stroke-width="0.9"/>
<text x="517.7" y="72.5" font-size="4.8" font-weight="bold" text-anchor="middle" fill="#000" stroke="#000" stroke-width="0.2">*</text>
<line x1="540.1" y1="14.9" x2="551.1" y2="14.9" stroke="#888" stroke-width="0.9"/>
<text x="545.6" y="15.8" font-size="4.8" font-weight="bold" text-anchor="middle" fill="#000" stroke="#000" stroke-width="0.2">*</text>
<line x1="567.2" y1="45.6" x2="578.0" y2="45.6" stroke="#888" stroke-width="0.9"/>
<text x="572.6" y="46.5" font-size="4.8" font-weight="bold" text-anchor="middle" fill="#000" stroke="#000" stroke-width="0.2">*</text>
<line x1="595.0" y1="14.9" x2="605.2" y2="14.9" stroke="#888" stroke-width="0.9"/>
<text x="600.1" y="15.8" font-size="4.8" font-weight="bold" text-anchor="middle" fill="#000" stroke="#000" stroke-width="0.2">*</text>
<line x1="622.0" y1="43.1" x2="632.5" y2="43.1" stroke="#888" stroke-width="0.9"/>
<text x="627.2" y="44.0" font-size="4.8" font-weight="bold" text-anchor="middle" fill="#000" stroke="#000" stroke-width="0.2">*</text>
<line x1="648.6" y1="36.3" x2="659.3" y2="36.3" stroke="#888" stroke-width="0.9"/>
<text x="654.0" y="37.2" font-size="4.8" font-weight="bold" text-anchor="middle" fill="#000" stroke="#000" stroke-width="0.2">*</text>
<line x1="17.4" y1="275.2" x2="200.7" y2="275.2" stroke="#c8c8c8" stroke-width="0.9"/>
<text x="2.6" y="181.2" font-size="6.6" font-weight="bold" text-anchor="middle" fill="#000" stroke="#000" stroke-width="0.2">D</text>
<line x1="15.8" y1="181.8" x2="17.4" y2="181.8" stroke="#3a3a3a" stroke-width="0.8"/>
<text x="14.6" y="183.5" font-size="4.8" font-weight="bold" text-anchor="end" fill="#000" stroke="#000" stroke-width="0.2">10</text>
<line x1="15.8" y1="228.5" x2="17.4" y2="228.5" stroke="#3a3a3a" stroke-width="0.8"/>
<text x="14.6" y="230.2" font-size="4.8" font-weight="bold" text-anchor="end" fill="#000" stroke="#000" stroke-width="0.2">5</text>
<line x1="15.8" y1="275.2" x2="17.4" y2="275.2" stroke="#3a3a3a" stroke-width="0.8"/>
<text x="14.6" y="276.9" font-size="4.8" font-weight="bold" text-anchor="end" fill="#000" stroke="#000" stroke-width="0.2">0</text>
<line x1="15.8" y1="321.9" x2="17.4" y2="321.9" stroke="#3a3a3a" stroke-width="0.8"/>
<text x="14.6" y="323.6" font-size="4.8" font-weight="bold" text-anchor="end" fill="#000" stroke="#000" stroke-width="0.2">-5</text>
<line x1="29.2" y1="321.3" x2="29.2" y2="323.5" stroke="#222" stroke-width="1.0"/>
<text x="29.2" y="328.6" font-size="5.15" font-weight="bold" font-style="italic" text-anchor="middle" fill="#000" stroke="#000" stroke-width="0.08">20a</text>
<line x1="55.8" y1="321.3" x2="55.8" y2="323.5" stroke="#222" stroke-width="1.0"/>
<text x="55.8" y="328.6" font-size="5.15" font-weight="bold" font-style="italic" text-anchor="middle" fill="#000" stroke="#000" stroke-width="0.08">25</text>
<line x1="82.4" y1="321.3" x2="82.4" y2="323.5" stroke="#222" stroke-width="1.0"/>
<text x="82.4" y="328.6" font-size="5.15" font-weight="bold" font-style="italic" text-anchor="middle" fill="#000" stroke="#000" stroke-width="0.08">26a</text>
<line x1="109.0" y1="321.3" x2="109.0" y2="323.5" stroke="#222" stroke-width="1.0"/>
<text x="109.0" y="328.6" font-size="5.15" font-weight="bold" font-style="italic" text-anchor="middle" fill="#000" stroke="#000" stroke-width="0.08">20a+25</text>
<line x1="135.6" y1="321.3" x2="135.6" y2="323.5" stroke="#222" stroke-width="1.0"/>
<text x="135.6" y="328.6" font-size="5.15" font-weight="bold" font-style="italic" text-anchor="middle" fill="#000" stroke="#000" stroke-width="0.08">20a+26a</text>
<line x1="162.2" y1="321.3" x2="162.2" y2="323.5" stroke="#222" stroke-width="1.0"/>
<text x="162.2" y="328.6" font-size="5.15" font-weight="bold" font-style="italic" text-anchor="middle" fill="#000" stroke="#000" stroke-width="0.08">25+26a</text>
<line x1="188.8" y1="321.3" x2="188.8" y2="323.5" stroke="#222" stroke-width="1.0"/>
<text x="188.8" y="328.6" font-size="5.15" font-weight="bold" font-style="italic" text-anchor="middle" fill="#000" stroke="#000" stroke-width="0.08">20a+25+26a</text>
<path d="M17.40 181.8V321.30H200.7" fill="none" stroke="#3c3c3c" stroke-width="1.1"/>
<text transform="translate(4.4,246.5) rotate(-90)" x="-25.8" y="0" font-size="5.04" font-style="italic" font-weight="normal" textLength="51.6" lengthAdjust="spacingAndGlyphs" fill="#000" stroke="#000" stroke-width="0.22">let-7a expression (ΔCt)</text>
<circle cx="205.6" cy="291.4" r="1.70" fill="#0000ff"/>
<rect x="203.9" y="294.7" width="3.4" height="3.4" fill="#ff0000"/>
<text x="210.6" y="292.9" font-size="4.5" font-weight="bold" fill="#111" stroke="#111" stroke-width="0.2">CY</text>
<text x="210.6" y="298.0" font-size="4.5" font-weight="bold" fill="#111" stroke="#111" stroke-width="0.2">NC</text>
<path d="M23.8 220.6V236.0" stroke="#444" stroke-width="0.65" fill="none"/>
<path d="M20.2 229.4H27.4M21.9 220.6H25.7" stroke="#444" stroke-width="0.7" fill="none"/>
<circle cx="22.3" cy="210.7" r="1.52" fill="#0000ff"/>
<circle cx="25.5" cy="214.4" r="1.52" fill="#0000ff"/>
<circle cx="23.0" cy="222.1" r="1.52" fill="#0000ff"/>
<circle cx="24.5" cy="222.7" r="1.52" fill="#0000ff"/>
<circle cx="23.8" cy="223.9" r="1.52" fill="#0000ff"/>
<circle cx="21.6" cy="234.1" r="1.52" fill="#0000ff"/>
<circle cx="23.8" cy="235.3" r="1.52" fill="#0000ff"/>
<circle cx="26.0" cy="234.4" r="1.52" fill="#0000ff"/>
<circle cx="24.1" cy="240.2" r="1.52" fill="#0000ff"/>
<path d="M33.8 211.4V241.4" stroke="#aaa" stroke-width="0.7" fill="none"/>
<path d="M30.2 233.0H37.4M31.9 211.4H35.7" stroke="#555" stroke-width="0.7" fill="none"/>
<rect x="32.5" y="204.1" width="3.0" height="3.0" fill="#ff0000"/>
<rect x="34.0" y="206.6" width="3.0" height="3.0" fill="#ff0000"/>
<rect x="30.8" y="211.0" width="3.0" height="3.0" fill="#ff0000"/>
<rect x="32.2" y="223.1" width="3.0" height="3.0" fill="#ff0000"/>
<rect x="34.0" y="229.7" width="3.0" height="3.0" fill="#ff0000"/>
<rect x="31.0" y="231.4" width="3.0" height="3.0" fill="#ff0000"/>
<rect x="31.0" y="238.1" width="3.0" height="3.0" fill="#ff0000"/>
<rect x="35.4" y="239.9" width="3.0" height="3.0" fill="#ff0000"/>
<rect x="34.0" y="241.7" width="3.0" height="3.0" fill="#ff0000"/>
<rect x="30.8" y="245.0" width="3.0" height="3.0" fill="#ff0000"/>
<path d="M50.5 259.0V279.0" stroke="#444" stroke-width="0.65" fill="none"/>
<path d="M46.9 275.1H54.1" stroke="#444" stroke-width="0.7" fill="none"/>
<circle cx="49.4" cy="256.1" r="1.52" fill="#0000ff"/>
<circle cx="51.5" cy="257.3" r="1.52" fill="#0000ff"/>
<circle cx="50.4" cy="258.7" r="1.52" fill="#0000ff"/>
<circle cx="50.5" cy="263.4" r="1.52" fill="#0000ff"/>
<circle cx="50.5" cy="271.1" r="1.52" fill="#0000ff"/>
<circle cx="48.3" cy="276.8" r="1.52" fill="#0000ff"/>
<circle cx="50.1" cy="277.7" r="1.52" fill="#0000ff"/>
<circle cx="52.7" cy="277.7" r="1.52" fill="#0000ff"/>
<circle cx="51.5" cy="279.5" r="1.52" fill="#0000ff"/>
<circle cx="50.5" cy="285.0" r="1.52" fill="#0000ff"/>
<path d="M60.6 259.0V286.8" stroke="#555" stroke-width="0.65" fill="none"/>
<path d="M57.0 277.3H64.2M58.7 259.0H62.5" stroke="#555" stroke-width="0.7" fill="none"/>
<rect x="59.1" y="244.8" width="3.0" height="3.0" fill="#ff0000"/>
<rect x="59.1" y="252.7" width="3.0" height="3.0" fill="#ff0000"/>
<rect x="59.1" y="259.3" width="3.0" height="3.0" fill="#ff0000"/>
<rect x="59.1" y="272.9" width="3.0" height="3.0" fill="#ff0000"/>
<rect x="60.3" y="274.8" width="3.0" height="3.0" fill="#ff0000"/>
<rect x="57.4" y="276.2" width="3.0" height="3.0" fill="#ff0000"/>
<rect x="59.1" y="277.2" width="3.0" height="3.0" fill="#ff0000"/>
<rect x="57.7" y="285.0" width="3.0" height="3.0" fill="#ff0000"/>
<rect x="60.3" y="286.0" width="3.0" height="3.0" fill="#ff0000"/>
<path d="M77.2 207.8V219.0" stroke="#444" stroke-width="0.65" fill="none"/>
<path d="M73.6 214.4H80.8M75.3 207.8H79.1" stroke="#444" stroke-width="0.7" fill="none"/>
<circle cx="76.4" cy="204.9" r="1.52" fill="#0000ff"/>
<circle cx="79.0" cy="206.0" r="1.52" fill="#0000ff"/>
<circle cx="75.7" cy="210.0" r="1.52" fill="#0000ff"/>
<circle cx="78.6" cy="211.4" r="1.52" fill="#0000ff"/>
<circle cx="77.1" cy="215.1" r="1.52" fill="#0000ff"/>
<circle cx="75.7" cy="219.5" r="1.52" fill="#0000ff"/>
<circle cx="77.9" cy="220.9" r="1.52" fill="#0000ff"/>
<circle cx="79.3" cy="221.7" r="1.52" fill="#0000ff"/>
<circle cx="76.4" cy="222.4" r="1.52" fill="#0000ff"/>
<path d="M87.4 201.9V228.2" stroke="#777" stroke-width="0.7" fill="none"/>
<path d="M83.8 222.1H91.0M85.5 201.9H89.3" stroke="#555" stroke-width="0.7" fill="none"/>
<rect x="85.9" y="194.9" width="3.0" height="3.0" fill="#ff0000"/>
<rect x="84.0" y="200.7" width="3.0" height="3.0" fill="#ff0000"/>
<rect x="87.3" y="199.7" width="3.0" height="3.0" fill="#ff0000"/>
<rect x="85.9" y="207.7" width="3.0" height="3.0" fill="#ff0000"/>
<rect x="85.9" y="217.2" width="3.0" height="3.0" fill="#ff0000"/>
<rect x="83.7" y="223.1" width="3.0" height="3.0" fill="#ff0000"/>
<rect x="86.3" y="223.1" width="3.0" height="3.0" fill="#ff0000"/>
<rect x="88.1" y="223.8" width="3.0" height="3.0" fill="#ff0000"/>
<rect x="85.1" y="227.5" width="3.0" height="3.0" fill="#ff0000"/>
<rect x="86.6" y="227.9" width="3.0" height="3.0" fill="#ff0000"/>
<rect x="85.9" y="230.8" width="3.0" height="3.0" fill="#ff0000"/>
<path d="M104.0 239.7V258.0" stroke="#444" stroke-width="0.65" fill="none"/>
<path d="M100.4 251.4H107.6M102.1 239.7H105.9" stroke="#444" stroke-width="0.7" fill="none"/>
<circle cx="102.2" cy="235.0" r="1.52" fill="#0000ff"/>
<circle cx="105.6" cy="233.9" r="1.52" fill="#0000ff"/>
<circle cx="104.1" cy="240.4" r="1.52" fill="#0000ff"/>
<circle cx="105.6" cy="244.1" r="1.52" fill="#0000ff"/>
<circle cx="102.2" cy="247.0" r="1.52" fill="#0000ff"/>
<circle cx="101.5" cy="255.5" r="1.52" fill="#0000ff"/>
<circle cx="104.1" cy="256.5" r="1.52" fill="#0000ff"/>
<circle cx="105.8" cy="257.0" r="1.52" fill="#0000ff"/>
<circle cx="104.1" cy="262.4" r="1.52" fill="#0000ff"/>
<path d="M113.9 233.9V263.8" stroke="#aaa" stroke-width="0.7" fill="none"/>
<path d="M110.3 253.2H117.5M112.0 233.9H115.8" stroke="#555" stroke-width="0.7" fill="none"/>
<rect x="112.4" y="224.3" width="3.0" height="3.0" fill="#ff0000"/>
<rect x="110.5" y="231.6" width="3.0" height="3.0" fill="#ff0000"/>
<rect x="113.9" y="233.1" width="3.0" height="3.0" fill="#ff0000"/>
<rect x="111.4" y="249.6" width="3.0" height="3.0" fill="#ff0000"/>
<rect x="113.1" y="251.7" width="3.0" height="3.0" fill="#ff0000"/>
<rect x="111.4" y="252.5" width="3.0" height="3.0" fill="#ff0000"/>
<rect x="112.4" y="257.5" width="3.0" height="3.0" fill="#ff0000"/>
<rect x="111.2" y="263.1" width="3.0" height="3.0" fill="#ff0000"/>
<rect x="112.6" y="264.8" width="3.0" height="3.0" fill="#ff0000"/>
<rect x="111.9" y="265.5" width="3.0" height="3.0" fill="#ff0000"/>
<path d="M130.4 214.6V228.0" stroke="#444" stroke-width="0.65" fill="none"/>
<path d="M126.8 221.4H134.0M128.5 214.6H132.3" stroke="#444" stroke-width="0.7" fill="none"/>
<circle cx="128.9" cy="207.8" r="1.52" fill="#0000ff"/>
<circle cx="132.5" cy="210.2" r="1.52" fill="#0000ff"/>
<circle cx="127.0" cy="217.8" r="1.52" fill="#0000ff"/>
<circle cx="132.2" cy="216.0" r="1.52" fill="#0000ff"/>
<circle cx="128.5" cy="219.2" r="1.52" fill="#0000ff"/>
<circle cx="130.7" cy="220.0" r="1.52" fill="#0000ff"/>
<circle cx="132.2" cy="223.3" r="1.52" fill="#0000ff"/>
<circle cx="128.5" cy="228.3" r="1.52" fill="#0000ff"/>
<circle cx="131.9" cy="227.7" r="1.52" fill="#0000ff"/>
<circle cx="130.7" cy="229.2" r="1.52" fill="#0000ff"/>
<circle cx="130.0" cy="231.2" r="1.52" fill="#0000ff"/>
<path d="M140.5 206.1V238.2" stroke="#888" stroke-width="0.7" fill="none"/>
<path d="M136.9 226.8H144.1M138.6 206.1H142.4" stroke="#555" stroke-width="0.7" fill="none"/>
<rect x="139.0" y="199.5" width="3.0" height="3.0" fill="#ff0000"/>
<rect x="140.9" y="203.1" width="3.0" height="3.0" fill="#ff0000"/>
<rect x="137.2" y="205.8" width="3.0" height="3.0" fill="#ff0000"/>
<rect x="139.0" y="215.3" width="3.0" height="3.0" fill="#ff0000"/>
<rect x="139.0" y="223.6" width="3.0" height="3.0" fill="#ff0000"/>
<rect x="137.2" y="227.2" width="3.0" height="3.0" fill="#ff0000"/>
<rect x="140.9" y="230.9" width="3.0" height="3.0" fill="#ff0000"/>
<rect x="137.7" y="233.8" width="3.0" height="3.0" fill="#ff0000"/>
<rect x="140.2" y="235.0" width="3.0" height="3.0" fill="#ff0000"/>
<rect x="139.0" y="237.9" width="3.0" height="3.0" fill="#ff0000"/>
<path d="M157.3 233.1V250.0" stroke="#444" stroke-width="0.65" fill="none"/>
<path d="M153.7 244.1H160.9M155.4 233.1H159.2" stroke="#444" stroke-width="0.7" fill="none"/>
<circle cx="153.8" cy="231.2" r="1.52" fill="#0000ff"/>
<circle cx="158.8" cy="231.2" r="1.52" fill="#0000ff"/>
<circle cx="155.6" cy="234.2" r="1.52" fill="#0000ff"/>
<circle cx="158.5" cy="237.5" r="1.52" fill="#0000ff"/>
<circle cx="155.3" cy="244.4" r="1.52" fill="#0000ff"/>
<circle cx="157.7" cy="243.8" r="1.52" fill="#0000ff"/>
<circle cx="155.6" cy="249.6" r="1.52" fill="#0000ff"/>
<circle cx="158.8" cy="249.2" r="1.52" fill="#0000ff"/>
<circle cx="157.0" cy="253.6" r="1.52" fill="#0000ff"/>
<path d="M167.3 230.2V258.7" stroke="#555" stroke-width="0.65" fill="none"/>
<path d="M163.7 248.5H170.9M165.4 230.2H169.2" stroke="#555" stroke-width="0.7" fill="none"/>
<rect x="165.8" y="219.9" width="3.0" height="3.0" fill="#ff0000"/>
<rect x="164.0" y="226.8" width="3.0" height="3.0" fill="#ff0000"/>
<rect x="167.2" y="229.4" width="3.0" height="3.0" fill="#ff0000"/>
<rect x="165.8" y="241.9" width="3.0" height="3.0" fill="#ff0000"/>
<rect x="164.0" y="247.7" width="3.0" height="3.0" fill="#ff0000"/>
<rect x="166.5" y="245.8" width="3.0" height="3.0" fill="#ff0000"/>
<rect x="165.8" y="250.6" width="3.0" height="3.0" fill="#ff0000"/>
<rect x="164.3" y="256.0" width="3.0" height="3.0" fill="#ff0000"/>
<rect x="166.9" y="256.9" width="3.0" height="3.0" fill="#ff0000"/>
<rect x="165.8" y="258.7" width="3.0" height="3.0" fill="#ff0000"/>
<path d="M183.7 229.5V246.0" stroke="#666" stroke-width="0.65" fill="none"/>
<path d="M180.1 239.0H187.3M181.8 229.5H185.6" stroke="#666" stroke-width="0.7" fill="none"/>
<circle cx="182.2" cy="225.5" r="1.52" fill="#0000ff"/>
<circle cx="185.5" cy="224.6" r="1.52" fill="#0000ff"/>
<circle cx="183.6" cy="229.8" r="1.52" fill="#0000ff"/>
<circle cx="185.5" cy="233.1" r="1.52" fill="#0000ff"/>
<circle cx="182.6" cy="236.5" r="1.52" fill="#0000ff"/>
<circle cx="184.8" cy="241.2" r="1.52" fill="#0000ff"/>
<circle cx="182.6" cy="244.4" r="1.52" fill="#0000ff"/>
<circle cx="185.5" cy="245.3" r="1.52" fill="#0000ff"/>
<circle cx="182.2" cy="249.2" r="1.52" fill="#0000ff"/>
<path d="M193.6 222.9V252.9" stroke="#aaa" stroke-width="0.7" fill="none"/>
<path d="M190.0 243.4H197.2M191.7 222.9H195.5" stroke="#555" stroke-width="0.7" fill="none"/>
<rect x="192.1" y="214.8" width="3.0" height="3.0" fill="#ff0000"/>
<rect x="190.6" y="221.8" width="3.0" height="3.0" fill="#ff0000"/>
<rect x="193.8" y="221.4" width="3.0" height="3.0" fill="#ff0000"/>
<rect x="192.1" y="235.6" width="3.0" height="3.0" fill="#ff0000"/>
<rect x="192.1" y="240.4" width="3.0" height="3.0" fill="#ff0000"/>
<rect x="190.6" y="242.6" width="3.0" height="3.0" fill="#ff0000"/>
<rect x="193.8" y="246.2" width="3.0" height="3.0" fill="#ff0000"/>
<rect x="190.6" y="251.1" width="3.0" height="3.0" fill="#ff0000"/>
<rect x="193.2" y="251.1" width="3.0" height="3.0" fill="#ff0000"/>
<rect x="192.1" y="254.0" width="3.0" height="3.0" fill="#ff0000"/>
<line x1="249.6" y1="275.3" x2="431.5" y2="275.3" stroke="#c8c8c8" stroke-width="0.9"/>
<text x="234" y="181.2" font-size="6.6" font-weight="bold" text-anchor="middle" fill="#000" stroke="#000" stroke-width="0.2">E</text>
<line x1="248.0" y1="181.9" x2="249.6" y2="181.9" stroke="#3a3a3a" stroke-width="0.8"/>
<text x="246.8" y="183.6" font-size="4.8" font-weight="bold" text-anchor="end" fill="#000" stroke="#000" stroke-width="0.2">10</text>
<line x1="248.0" y1="228.6" x2="249.6" y2="228.6" stroke="#3a3a3a" stroke-width="0.8"/>
<text x="246.8" y="230.3" font-size="4.8" font-weight="bold" text-anchor="end" fill="#000" stroke="#000" stroke-width="0.2">5</text>
<line x1="248.0" y1="275.3" x2="249.6" y2="275.3" stroke="#3a3a3a" stroke-width="0.8"/>
<text x="246.8" y="277.0" font-size="4.8" font-weight="bold" text-anchor="end" fill="#000" stroke="#000" stroke-width="0.2">0</text>
<line x1="248.0" y1="322.0" x2="249.6" y2="322.0" stroke="#3a3a3a" stroke-width="0.8"/>
<text x="246.8" y="323.7" font-size="4.8" font-weight="bold" text-anchor="end" fill="#000" stroke="#000" stroke-width="0.2">-5</text>
<line x1="261.5" y1="322.4" x2="261.5" y2="324.6" stroke="#222" stroke-width="1.0"/>
<text x="261.5" y="329.1" font-size="5.15" font-weight="bold" font-style="italic" text-anchor="middle" fill="#000" stroke="#000" stroke-width="0.08">20a</text>
<line x1="287.8" y1="322.4" x2="287.8" y2="324.6" stroke="#222" stroke-width="1.0"/>
<text x="287.8" y="329.1" font-size="5.15" font-weight="bold" font-style="italic" text-anchor="middle" fill="#000" stroke="#000" stroke-width="0.08">25</text>
<line x1="314.2" y1="322.4" x2="314.2" y2="324.6" stroke="#222" stroke-width="1.0"/>
<text x="314.2" y="329.1" font-size="5.15" font-weight="bold" font-style="italic" text-anchor="middle" fill="#000" stroke="#000" stroke-width="0.08">26a</text>
<line x1="340.5" y1="322.4" x2="340.5" y2="324.6" stroke="#222" stroke-width="1.0"/>
<text x="340.5" y="329.1" font-size="5.15" font-weight="bold" font-style="italic" text-anchor="middle" fill="#000" stroke="#000" stroke-width="0.08">20a+25</text>
<line x1="366.8" y1="322.4" x2="366.8" y2="324.6" stroke="#222" stroke-width="1.0"/>
<text x="366.8" y="329.1" font-size="5.15" font-weight="bold" font-style="italic" text-anchor="middle" fill="#000" stroke="#000" stroke-width="0.08">20a+26a</text>
<line x1="393.1" y1="322.4" x2="393.1" y2="324.6" stroke="#222" stroke-width="1.0"/>
<text x="393.1" y="329.1" font-size="5.15" font-weight="bold" font-style="italic" text-anchor="middle" fill="#000" stroke="#000" stroke-width="0.08">25+26a</text>
<line x1="419.5" y1="322.4" x2="419.5" y2="324.6" stroke="#222" stroke-width="1.0"/>
<text x="419.5" y="329.1" font-size="5.15" font-weight="bold" font-style="italic" text-anchor="middle" fill="#000" stroke="#000" stroke-width="0.08">20a+25+26a</text>
<path d="M249.60 181.9V322.40H431.5" fill="none" stroke="#3c3c3c" stroke-width="1.1"/>
<text transform="translate(236.9,248.0) rotate(-90)" x="-25.4" y="0" font-size="4.96" font-style="italic" font-weight="normal" textLength="50.7" lengthAdjust="spacingAndGlyphs" fill="#000" stroke="#000" stroke-width="0.22">let-7a expression (ΔCt)</text>
<path d="M436.6 292.1L438.1 294.7L435.2 294.7Z" fill="#ff7f0e"/>
<path d="M436.6 300.0L438.2 297.1L435.0 297.1Z" fill="#000000"/>
<text x="441.6" y="295.0" font-size="4.3" font-weight="bold" fill="#111" stroke="#111" stroke-width="0.1">HT</text>
<text x="441.6" y="300.0" font-size="4.3" font-weight="bold" fill="#111" stroke="#111" stroke-width="0.1">WT</text>
<path d="M256.4 211.4V227.5" stroke="#333" stroke-width="0.65" fill="none"/>
<path d="M252.8 217.2H260.0M254.5 211.4H258.3M254.5 227.5H258.3" stroke="#333" stroke-width="0.7" fill="none"/>
<path d="M256.4 207.5L257.8 210.1L254.9 210.1Z" fill="#ff7f0e"/>
<path d="M254.5 212.2L255.9 214.9L253.1 214.9Z" fill="#ff7f0e"/>
<path d="M258.5 211.9L259.9 214.5L257.1 214.5Z" fill="#ff7f0e"/>
<path d="M256.4 219.6L257.8 222.2L254.9 222.2Z" fill="#ff7f0e"/>
<path d="M257.9 225.0L259.3 227.6L256.4 227.6Z" fill="#ff7f0e"/>
<path d="M254.5 229.4L255.9 232.0L253.1 232.0Z" fill="#ff7f0e"/>
<path d="M266.6 213.7V235.9" stroke="#222" stroke-width="0.65" fill="none"/>
<path d="M263.0 229.4H270.2M264.7 213.7H268.5M264.7 235.9H268.5" stroke="#222" stroke-width="0.7" fill="none"/>
<path d="M264.7 213.4L266.3 210.5L263.1 210.5Z" fill="#000000"/>
<path d="M268.1 215.3L269.7 212.4L266.5 212.4Z" fill="#000000"/>
<path d="M266.6 226.6L268.2 223.7L265.0 223.7Z" fill="#000000"/>
<path d="M266.9 234.9L268.5 232.0L265.3 232.0Z" fill="#000000"/>
<path d="M265.8 236.1L267.4 233.2L264.2 233.2Z" fill="#000000"/>
<path d="M268.1 236.4L269.7 233.5L266.5 233.5Z" fill="#000000"/>
<path d="M264.7 240.2L266.3 237.3L263.1 237.3Z" fill="#000000"/>
<path d="M282.7 256.4V277.7" stroke="#777" stroke-width="0.7" fill="none"/>
<path d="M279.1 270.0H286.3M280.8 256.4H284.6M280.8 277.7H284.6" stroke="#555" stroke-width="0.7" fill="none"/>
<path d="M282.7 251.0L284.1 253.6L281.2 253.6Z" fill="#ff7f0e"/>
<path d="M282.7 257.2L284.1 259.9L281.2 259.9Z" fill="#ff7f0e"/>
<path d="M281.5 269.2L282.9 271.9L280.1 271.9Z" fill="#ff7f0e"/>
<path d="M283.7 268.6L285.1 271.2L282.2 271.2Z" fill="#ff7f0e"/>
<path d="M282.7 269.9L284.1 272.6L281.2 272.6Z" fill="#ff7f0e"/>
<path d="M282.7 297.1L284.1 299.7L281.2 299.7Z" fill="#ff7f0e"/>
<path d="M292.5 260.5V282.4" stroke="#222" stroke-width="0.65" fill="none"/>
<path d="M288.9 278.3H296.1M290.6 260.5H294.4M290.6 282.4H294.4" stroke="#222" stroke-width="0.7" fill="none"/>
<path d="M291.1 258.9L292.7 256.0L289.5 256.0Z" fill="#000000"/>
<path d="M294.4 263.2L296.0 260.3L292.8 260.3Z" fill="#000000"/>
<path d="M292.5 275.5L294.1 272.6L290.9 272.6Z" fill="#000000"/>
<path d="M291.1 283.3L292.7 280.4L289.5 280.4Z" fill="#000000"/>
<path d="M294.0 284.7L295.6 281.8L292.4 281.8Z" fill="#000000"/>
<path d="M292.5 286.2L294.1 283.3L290.9 283.3Z" fill="#000000"/>
<path d="M292.5 291.6L294.1 288.7L290.9 288.7Z" fill="#000000"/>
<path d="M309.0 206.4V218.4" stroke="#444" stroke-width="0.65" fill="none"/>
<path d="M305.4 214.3H312.6M307.1 206.4H310.9M307.1 218.4H310.9" stroke="#444" stroke-width="0.7" fill="none"/>
<path d="M309.0 200.2L310.4 202.8L307.6 202.8Z" fill="#ff7f0e"/>
<path d="M310.8 207.1L312.2 209.7L309.4 209.7Z" fill="#ff7f0e"/>
<path d="M307.6 210.9L309.1 213.5L306.2 213.5Z" fill="#ff7f0e"/>
<path d="M307.1 215.8L308.6 218.4L305.7 218.4Z" fill="#ff7f0e"/>
<path d="M310.5 215.8L311.9 218.4L309.1 218.4Z" fill="#ff7f0e"/>
<path d="M309.0 221.1L310.4 223.7L307.6 223.7Z" fill="#ff7f0e"/>
<path d="M318.8 207.4V222.8" stroke="#777" stroke-width="0.7" fill="none"/>
<path d="M315.2 222.0H322.4M316.9 207.4H320.7" stroke="#555" stroke-width="0.7" fill="none"/>
<path d="M317.4 205.1L319.0 202.2L315.8 202.2Z" fill="#000000"/>
<path d="M320.7 209.0L322.3 206.1L319.1 206.1Z" fill="#000000"/>
<path d="M316.6 222.9L318.2 220.0L315.0 220.0Z" fill="#000000"/>
<path d="M318.8 223.6L320.4 220.7L317.2 220.7Z" fill="#000000"/>
<path d="M321.0 222.6L322.6 219.7L319.4 219.7Z" fill="#000000"/>
<path d="M318.1 225.8L319.7 222.9L316.5 222.9Z" fill="#000000"/>
<path d="M335.6 234.2V251.3" stroke="#333" stroke-width="0.65" fill="none"/>
<path d="M332.0 246.5H339.2M333.7 234.2H337.5M333.7 251.3H337.5" stroke="#333" stroke-width="0.7" fill="none"/>
<path d="M335.6 228.7L337.1 231.3L334.2 231.3Z" fill="#ff7f0e"/>
<path d="M335.6 235.2L337.1 237.9L334.2 237.9Z" fill="#ff7f0e"/>
<path d="M335.6 244.0L337.1 246.6L334.2 246.6Z" fill="#ff7f0e"/>
<path d="M333.5 247.4L334.9 250.0L332.1 250.0Z" fill="#ff7f0e"/>
<path d="M337.4 249.2L338.8 251.8L335.9 251.8Z" fill="#ff7f0e"/>
<path d="M335.6 253.8L337.1 256.4L334.2 256.4Z" fill="#ff7f0e"/>
<path d="M345.4 237.1V258.6" stroke="#222" stroke-width="0.65" fill="none"/>
<path d="M341.8 254.2H349.0M343.5 237.1H347.3M343.5 258.6H347.3" stroke="#222" stroke-width="0.7" fill="none"/>
<path d="M343.9 236.1L345.5 233.2L342.3 233.2Z" fill="#000000"/>
<path d="M347.3 239.0L348.9 236.1L345.7 236.1Z" fill="#000000"/>
<path d="M345.4 250.7L347.0 247.8L343.8 247.8Z" fill="#000000"/>
<path d="M344.6 259.5L346.2 256.6L343.0 256.6Z" fill="#000000"/>
<path d="M346.8 259.8L348.4 256.9L345.2 256.9Z" fill="#000000"/>
<path d="M345.4 260.9L347.0 258.0L343.8 258.0Z" fill="#000000"/>
<path d="M345.4 266.0L347.0 263.1L343.8 263.1Z" fill="#000000"/>
<path d="M361.9 209.3V222.5" stroke="#555" stroke-width="0.65" fill="none"/>
<path d="M358.3 215.8H365.5M360.0 209.3H363.8M360.0 222.5H363.8" stroke="#555" stroke-width="0.7" fill="none"/>
<path d="M361.9 203.5L363.3 206.1L360.4 206.1Z" fill="#ff7f0e"/>
<path d="M363.3 209.4L364.8 212.0L361.9 212.0Z" fill="#ff7f0e"/>
<path d="M360.4 211.9L361.8 214.5L358.9 214.5Z" fill="#ff7f0e"/>
<path d="M360.0 217.7L361.4 220.3L358.6 220.3Z" fill="#ff7f0e"/>
<path d="M363.3 220.6L364.8 223.2L361.9 223.2Z" fill="#ff7f0e"/>
<path d="M361.9 225.5L363.3 228.1L360.4 228.1Z" fill="#ff7f0e"/>
<path d="M372.0 210.4V226.0" stroke="#222" stroke-width="0.65" fill="none"/>
<path d="M368.4 225.7H375.6M370.1 210.4H373.9" stroke="#222" stroke-width="0.7" fill="none"/>
<path d="M370.2 212.0L371.8 209.1L368.6 209.1Z" fill="#000000"/>
<path d="M373.6 209.5L375.2 206.6L372.0 206.6Z" fill="#000000"/>
<path d="M372.0 224.7L373.6 221.8L370.4 221.8Z" fill="#000000"/>
<path d="M370.2 228.0L371.8 225.1L368.6 225.1Z" fill="#000000"/>
<path d="M373.1 228.5L374.7 225.6L371.5 225.6Z" fill="#000000"/>
<path d="M372.0 231.4L373.6 228.5L370.4 228.5Z" fill="#000000"/>
<path d="M388.2 232.7V247.6" stroke="#333" stroke-width="0.65" fill="none"/>
<path d="M384.6 243.2H391.8M386.3 232.7H390.1M386.3 247.6H390.1" stroke="#333" stroke-width="0.7" fill="none"/>
<path d="M388.2 225.5L389.6 228.1L386.8 228.1Z" fill="#ff7f0e"/>
<path d="M388.2 233.8L389.6 236.4L386.8 236.4Z" fill="#ff7f0e"/>
<path d="M387.0 242.6L388.4 245.2L385.6 245.2Z" fill="#ff7f0e"/>
<path d="M389.2 241.8L390.6 244.4L387.8 244.4Z" fill="#ff7f0e"/>
<path d="M388.2 245.5L389.6 248.1L386.8 248.1Z" fill="#ff7f0e"/>
<path d="M388.2 252.1L389.6 254.7L386.8 254.7Z" fill="#ff7f0e"/>
<path d="M398.0 233.7V252.0" stroke="#222" stroke-width="0.65" fill="none"/>
<path d="M394.4 250.6H401.6M396.1 233.7H399.9" stroke="#222" stroke-width="0.7" fill="none"/>
<path d="M399.9 232.0L401.5 229.1L398.3 229.1Z" fill="#000000"/>
<path d="M396.5 235.8L398.1 232.9L394.9 232.9Z" fill="#000000"/>
<path d="M398.0 249.2L399.6 246.3L396.4 246.3Z" fill="#000000"/>
<path d="M397.3 253.6L398.9 250.7L395.7 250.7Z" fill="#000000"/>
<path d="M398.7 254.3L400.3 251.4L397.1 251.4Z" fill="#000000"/>
<path d="M398.0 256.5L399.6 253.6L396.4 253.6Z" fill="#000000"/>
<path d="M414.5 226.4V238.9" stroke="#555" stroke-width="0.65" fill="none"/>
<path d="M410.9 236.7H418.1M412.6 226.4H416.4M412.6 238.9H416.4" stroke="#555" stroke-width="0.7" fill="none"/>
<path d="M414.5 219.6L415.9 222.2L413.1 222.2Z" fill="#ff7f0e"/>
<path d="M414.5 226.9L415.9 229.5L413.1 229.5Z" fill="#ff7f0e"/>
<path d="M413.3 236.0L414.8 238.6L411.9 238.6Z" fill="#ff7f0e"/>
<path d="M415.5 237.2L416.9 239.8L414.1 239.8Z" fill="#ff7f0e"/>
<path d="M414.5 239.7L415.9 242.3L413.1 242.3Z" fill="#ff7f0e"/>
<path d="M424.7 226.9V246.0" stroke="#222" stroke-width="0.65" fill="none"/>
<path d="M421.1 243.2H428.3M422.8 226.9H426.6" stroke="#222" stroke-width="0.7" fill="none"/>
<path d="M426.5 225.8L428.1 222.9L424.9 222.9Z" fill="#000000"/>
<path d="M423.3 229.1L424.9 226.2L421.7 226.2Z" fill="#000000"/>
<path d="M424.7 241.9L426.3 239.0L423.1 239.0Z" fill="#000000"/>
<path d="M423.6 247.8L425.2 244.9L422.0 244.9Z" fill="#000000"/>
<path d="M425.8 248.5L427.4 245.6L424.2 245.6Z" fill="#000000"/>
<path d="M424.7 251.0L426.3 248.1L423.1 248.1Z" fill="#000000"/>
<line x1="477.7" y1="293.6" x2="661.4" y2="293.6" stroke="#c8c8c8" stroke-width="0.9"/>
<text x="464" y="181.2" font-size="6.6" font-weight="bold" text-anchor="middle" fill="#000" stroke="#000" stroke-width="0.2">F</text>
<line x1="476.1" y1="182.4" x2="477.7" y2="182.4" stroke="#5a5a5a" stroke-width="0.8"/>
<text x="474.9" y="184.1" font-size="4.8" font-weight="bold" text-anchor="end" fill="#000" stroke="#000" stroke-width="0.2">8</text>
<line x1="476.1" y1="210.2" x2="477.7" y2="210.2" stroke="#5a5a5a" stroke-width="0.8"/>
<text x="474.9" y="211.9" font-size="4.8" font-weight="bold" text-anchor="end" fill="#000" stroke="#000" stroke-width="0.2">6</text>
<line x1="476.1" y1="238.0" x2="477.7" y2="238.0" stroke="#5a5a5a" stroke-width="0.8"/>
<text x="474.9" y="239.7" font-size="4.8" font-weight="bold" text-anchor="end" fill="#000" stroke="#000" stroke-width="0.2">4</text>
<line x1="476.1" y1="265.8" x2="477.7" y2="265.8" stroke="#5a5a5a" stroke-width="0.8"/>
<text x="474.9" y="267.5" font-size="4.8" font-weight="bold" text-anchor="end" fill="#000" stroke="#000" stroke-width="0.2">2</text>
<line x1="476.1" y1="293.6" x2="477.7" y2="293.6" stroke="#5a5a5a" stroke-width="0.8"/>
<text x="474.9" y="295.3" font-size="4.8" font-weight="bold" text-anchor="end" fill="#000" stroke="#000" stroke-width="0.2">0</text>
<line x1="476.1" y1="321.4" x2="477.7" y2="321.4" stroke="#5a5a5a" stroke-width="0.8"/>
<text x="474.9" y="323.1" font-size="4.8" font-weight="bold" text-anchor="end" fill="#000" stroke="#000" stroke-width="0.2">-2</text>
<line x1="489.5" y1="321.4" x2="489.5" y2="323.6" stroke="#222" stroke-width="1.0"/>
<text x="489.5" y="328.6" font-size="5.15" font-weight="bold" font-style="italic" text-anchor="middle" fill="#000" stroke="#000" stroke-width="0.08">20a</text>
<line x1="516.1" y1="321.4" x2="516.1" y2="323.6" stroke="#222" stroke-width="1.0"/>
<text x="516.1" y="328.6" font-size="5.15" font-weight="bold" font-style="italic" text-anchor="middle" fill="#000" stroke="#000" stroke-width="0.08">25</text>
<line x1="542.8" y1="321.4" x2="542.8" y2="323.6" stroke="#222" stroke-width="1.0"/>
<text x="542.8" y="328.6" font-size="5.15" font-weight="bold" font-style="italic" text-anchor="middle" fill="#000" stroke="#000" stroke-width="0.08">26a</text>
<line x1="569.5" y1="321.4" x2="569.5" y2="323.6" stroke="#222" stroke-width="1.0"/>
<text x="569.5" y="328.6" font-size="5.15" font-weight="bold" font-style="italic" text-anchor="middle" fill="#000" stroke="#000" stroke-width="0.08">20a+25</text>
<line x1="596.1" y1="321.4" x2="596.1" y2="323.6" stroke="#222" stroke-width="1.0"/>
<text x="596.1" y="328.6" font-size="5.15" font-weight="bold" font-style="italic" text-anchor="middle" fill="#000" stroke="#000" stroke-width="0.08">20a+26a</text>
<line x1="622.8" y1="321.4" x2="622.8" y2="323.6" stroke="#222" stroke-width="1.0"/>
<text x="622.8" y="328.6" font-size="5.15" font-weight="bold" font-style="italic" text-anchor="middle" fill="#000" stroke="#000" stroke-width="0.08">25+26a</text>
<line x1="649.4" y1="321.4" x2="649.4" y2="323.6" stroke="#222" stroke-width="1.0"/>
<text x="649.4" y="328.6" font-size="5.15" font-weight="bold" font-style="italic" text-anchor="middle" fill="#000" stroke="#000" stroke-width="0.08">20a+25+26a</text>
<path d="M477.70 182.4V321.40H661.4" fill="none" stroke="#3c3c3c" stroke-width="1.1"/>
<text transform="translate(466.8,247.2) rotate(-90)" x="-25.4" y="0" font-size="4.96" font-style="italic" font-weight="normal" textLength="50.7" lengthAdjust="spacingAndGlyphs" fill="#000" stroke="#000" stroke-width="0.22">let-7a expression (ΔCt)</text>
<path d="M664.89 291.42h1.61v0.87h0.87v1.61h-0.87v0.87h-1.61v-0.87h-0.87v-1.61h0.87Z" fill="#00a84f"/>
<circle cx="665.7" cy="298.4" r="1.70" fill="#800080"/>
<text x="670.7" y="294.6" font-size="4.5" font-weight="bold" fill="#111" stroke="#111" stroke-width="0.2">SC</text>
<text x="670.7" y="300.0" font-size="4.5" font-weight="bold" fill="#111" stroke="#111" stroke-width="0.2">CO</text>
<path d="M484.3 210.8V226.3" stroke="#222" stroke-width="0.65" fill="none"/>
<path d="M483.58 201.70h1.44v0.78h0.78v1.44h-0.78v0.78h-1.44v-0.78h-0.78v-1.44h0.78Z" fill="#00a84f"/>
<path d="M483.58 209.30h1.44v0.78h0.78v1.44h-0.78v0.78h-1.44v-0.78h-0.78v-1.44h0.78Z" fill="#00a84f"/>
<path d="M485.28 212.60h1.44v0.78h0.78v1.44h-0.78v0.78h-1.44v-0.78h-0.78v-1.44h0.78Z" fill="#00a84f"/>
<path d="M482.38 216.00h1.44v0.78h0.78v1.44h-0.78v0.78h-1.44v-0.78h-0.78v-1.44h0.78Z" fill="#00a84f"/>
<path d="M483.58 221.40h1.44v0.78h0.78v1.44h-0.78v0.78h-1.44v-0.78h-0.78v-1.44h0.78Z" fill="#00a84f"/>
<path d="M485.28 225.00h1.44v0.78h0.78v1.44h-0.78v0.78h-1.44v-0.78h-0.78v-1.44h0.78Z" fill="#00a84f"/>
<path d="M482.38 226.80h1.44v0.78h0.78v1.44h-0.78v0.78h-1.44v-0.78h-0.78v-1.44h0.78Z" fill="#00a84f"/>
<path d="M480.7 217.5H487.9M482.4 210.8H486.2M482.4 226.3H486.2" stroke="#222" stroke-width="0.7" fill="none"/>
<path d="M494.8 221.4V227.4" stroke="#800080" stroke-width="0.65" fill="none"/>
<path d="M491.2 224.4H498.4M492.9 221.4H496.7M492.9 227.4H496.7" stroke="#800080" stroke-width="0.7" fill="none"/>
<circle cx="494.4" cy="218.5" r="1.52" fill="#800080"/>
<circle cx="492.6" cy="223.9" r="1.52" fill="#800080"/>
<circle cx="496.7" cy="223.9" r="1.52" fill="#800080"/>
<circle cx="497.7" cy="225.1" r="1.52" fill="#800080"/>
<circle cx="495.5" cy="227.3" r="1.52" fill="#800080"/>
<circle cx="492.6" cy="230.2" r="1.52" fill="#800080"/>
<path d="M511.3 290.4V301.1" stroke="#222" stroke-width="0.65" fill="none"/>
<path d="M510.58 282.40h1.44v0.78h0.78v1.44h-0.78v0.78h-1.44v-0.78h-0.78v-1.44h0.78Z" fill="#00a84f"/>
<path d="M510.58 288.90h1.44v0.78h0.78v1.44h-0.78v0.78h-1.44v-0.78h-0.78v-1.44h0.78Z" fill="#00a84f"/>
<path d="M509.48 294.80h1.44v0.78h0.78v1.44h-0.78v0.78h-1.44v-0.78h-0.78v-1.44h0.78Z" fill="#00a84f"/>
<path d="M511.68 294.80h1.44v0.78h0.78v1.44h-0.78v0.78h-1.44v-0.78h-0.78v-1.44h0.78Z" fill="#00a84f"/>
<path d="M512.08 299.90h1.44v0.78h0.78v1.44h-0.78v0.78h-1.44v-0.78h-0.78v-1.44h0.78Z" fill="#00a84f"/>
<path d="M508.68 302.80h1.44v0.78h0.78v1.44h-0.78v0.78h-1.44v-0.78h-0.78v-1.44h0.78Z" fill="#00a84f"/>
<path d="M507.7 296.3H514.9M509.4 290.4H513.2M509.4 301.1H513.2" stroke="#222" stroke-width="0.7" fill="none"/>
<path d="M521.1 292.3V303.0" stroke="#800080" stroke-width="0.65" fill="none"/>
<path d="M517.5 298.5H524.7M519.2 292.3H523.0M519.2 303.0H523.0" stroke="#800080" stroke-width="0.7" fill="none"/>
<circle cx="521.1" cy="287.1" r="1.52" fill="#800080"/>
<circle cx="519.7" cy="298.2" r="1.52" fill="#800080"/>
<circle cx="521.9" cy="297.7" r="1.52" fill="#800080"/>
<circle cx="521.1" cy="299.9" r="1.52" fill="#800080"/>
<circle cx="520.4" cy="302.1" r="1.52" fill="#800080"/>
<circle cx="521.9" cy="303.2" r="1.52" fill="#800080"/>
<path d="M537.6 214.9V222.0" stroke="#222" stroke-width="0.65" fill="none"/>
<path d="M534.98 213.10h1.44v0.78h0.78v1.44h-0.78v0.78h-1.44v-0.78h-0.78v-1.44h0.78Z" fill="#00a84f"/>
<path d="M538.68 214.10h1.44v0.78h0.78v1.44h-0.78v0.78h-1.44v-0.78h-0.78v-1.44h0.78Z" fill="#00a84f"/>
<path d="M535.78 216.30h1.44v0.78h0.78v1.44h-0.78v0.78h-1.44v-0.78h-0.78v-1.44h0.78Z" fill="#00a84f"/>
<path d="M536.88 218.50h1.44v0.78h0.78v1.44h-0.78v0.78h-1.44v-0.78h-0.78v-1.44h0.78Z" fill="#00a84f"/>
<path d="M535.48 219.50h1.44v0.78h0.78v1.44h-0.78v0.78h-1.44v-0.78h-0.78v-1.44h0.78Z" fill="#00a84f"/>
<path d="M537.48 220.70h1.44v0.78h0.78v1.44h-0.78v0.78h-1.44v-0.78h-0.78v-1.44h0.78Z" fill="#00a84f"/>
<path d="M534.0 219.2H541.2M535.7 214.9H539.5M535.7 222.0H539.5" stroke="#222" stroke-width="0.7" fill="none"/>
<path d="M547.4 220.0V225.0" stroke="#800080" stroke-width="0.65" fill="none"/>
<path d="M543.8 222.9H551.0M545.5 220.0H549.3M545.5 225.0H549.3" stroke="#800080" stroke-width="0.7" fill="none"/>
<circle cx="545.5" cy="218.5" r="1.52" fill="#800080"/>
<circle cx="547.9" cy="220.7" r="1.52" fill="#800080"/>
<circle cx="549.9" cy="221.0" r="1.52" fill="#800080"/>
<circle cx="546.7" cy="222.9" r="1.52" fill="#800080"/>
<circle cx="547.9" cy="226.8" r="1.52" fill="#800080"/>
<path d="M564.5 252.4V262.7" stroke="#222" stroke-width="0.65" fill="none"/>
<path d="M563.88 241.70h1.44v0.78h0.78v1.44h-0.78v0.78h-1.44v-0.78h-0.78v-1.44h0.78Z" fill="#00a84f"/>
<path d="M564.28 250.90h1.44v0.78h0.78v1.44h-0.78v0.78h-1.44v-0.78h-0.78v-1.44h0.78Z" fill="#00a84f"/>
<path d="M562.08 252.40h1.44v0.78h0.78v1.44h-0.78v0.78h-1.44v-0.78h-0.78v-1.44h0.78Z" fill="#00a84f"/>
<path d="M564.28 260.40h1.44v0.78h0.78v1.44h-0.78v0.78h-1.44v-0.78h-0.78v-1.44h0.78Z" fill="#00a84f"/>
<path d="M562.78 261.20h1.44v0.78h0.78v1.44h-0.78v0.78h-1.44v-0.78h-0.78v-1.44h0.78Z" fill="#00a84f"/>
<path d="M563.88 264.10h1.44v0.78h0.78v1.44h-0.78v0.78h-1.44v-0.78h-0.78v-1.44h0.78Z" fill="#00a84f"/>
<path d="M560.9 256.4H568.1M562.6 252.4H566.4M562.6 262.7H566.4" stroke="#222" stroke-width="0.7" fill="none"/>
<path d="M574.4 256.8V265.0" stroke="#800080" stroke-width="0.65" fill="none"/>
<path d="M570.8 261.6H578.0M572.5 256.8H576.3M572.5 265.0H576.3" stroke="#800080" stroke-width="0.7" fill="none"/>
<circle cx="574.2" cy="252.9" r="1.52" fill="#800080"/>
<circle cx="575.2" cy="260.5" r="1.52" fill="#800080"/>
<circle cx="577.4" cy="260.5" r="1.52" fill="#800080"/>
<circle cx="572.3" cy="263.1" r="1.52" fill="#800080"/>
<circle cx="574.5" cy="264.1" r="1.52" fill="#800080"/>
<circle cx="573.8" cy="265.1" r="1.52" fill="#800080"/>
<path d="M591.0 215.1V223.3" stroke="#444" stroke-width="0.65" fill="none"/>
<path d="M590.28 209.00h1.44v0.78h0.78v1.44h-0.78v0.78h-1.44v-0.78h-0.78v-1.44h0.78Z" fill="#00a84f"/>
<path d="M588.88 213.60h1.44v0.78h0.78v1.44h-0.78v0.78h-1.44v-0.78h-0.78v-1.44h0.78Z" fill="#00a84f"/>
<path d="M592.08 213.60h1.44v0.78h0.78v1.44h-0.78v0.78h-1.44v-0.78h-0.78v-1.44h0.78Z" fill="#00a84f"/>
<path d="M587.68 219.50h1.44v0.78h0.78v1.44h-0.78v0.78h-1.44v-0.78h-0.78v-1.44h0.78Z" fill="#00a84f"/>
<path d="M590.58 219.90h1.44v0.78h0.78v1.44h-0.78v0.78h-1.44v-0.78h-0.78v-1.44h0.78Z" fill="#00a84f"/>
<path d="M592.78 218.50h1.44v0.78h0.78v1.44h-0.78v0.78h-1.44v-0.78h-0.78v-1.44h0.78Z" fill="#00a84f"/>
<path d="M589.38 222.90h1.44v0.78h0.78v1.44h-0.78v0.78h-1.44v-0.78h-0.78v-1.44h0.78Z" fill="#00a84f"/>
<path d="M587.4 220.0H594.6M589.1 215.1H592.9M589.1 223.3H592.9" stroke="#444" stroke-width="0.7" fill="none"/>
<path d="M601.3 220.5V226.0" stroke="#333" stroke-width="0.65" fill="none"/>
<path d="M597.7 223.3H604.9M599.4 220.5H603.2M599.4 226.0H603.2" stroke="#333" stroke-width="0.7" fill="none"/>
<circle cx="602.3" cy="219.5" r="1.52" fill="#800080"/>
<circle cx="600.1" cy="221.4" r="1.52" fill="#800080"/>
<circle cx="602.7" cy="224.8" r="1.52" fill="#800080"/>
<circle cx="600.8" cy="223.9" r="1.52" fill="#800080"/>
<circle cx="599.4" cy="228.3" r="1.52" fill="#800080"/>
<path d="M617.6 253.3V261.3" stroke="#444" stroke-width="0.65" fill="none"/>
<path d="M618.78 249.60h1.44v0.78h0.78v1.44h-0.78v0.78h-1.44v-0.78h-0.78v-1.44h0.78Z" fill="#00a84f"/>
<path d="M613.68 251.40h1.44v0.78h0.78v1.44h-0.78v0.78h-1.44v-0.78h-0.78v-1.44h0.78Z" fill="#00a84f"/>
<path d="M615.48 254.70h1.44v0.78h0.78v1.44h-0.78v0.78h-1.44v-0.78h-0.78v-1.44h0.78Z" fill="#00a84f"/>
<path d="M618.78 256.50h1.44v0.78h0.78v1.44h-0.78v0.78h-1.44v-0.78h-0.78v-1.44h0.78Z" fill="#00a84f"/>
<path d="M615.88 257.30h1.44v0.78h0.78v1.44h-0.78v0.78h-1.44v-0.78h-0.78v-1.44h0.78Z" fill="#00a84f"/>
<path d="M618.08 259.50h1.44v0.78h0.78v1.44h-0.78v0.78h-1.44v-0.78h-0.78v-1.44h0.78Z" fill="#00a84f"/>
<path d="M616.98 261.60h1.44v0.78h0.78v1.44h-0.78v0.78h-1.44v-0.78h-0.78v-1.44h0.78Z" fill="#00a84f"/>
<path d="M614.0 258.2H621.2M615.7 253.3H619.5M615.7 261.3H619.5" stroke="#444" stroke-width="0.7" fill="none"/>
<path d="M627.5 257.0V263.0" stroke="#333" stroke-width="0.65" fill="none"/>
<path d="M623.9 260.4H631.1M625.6 257.0H629.4M625.6 263.0H629.4" stroke="#333" stroke-width="0.7" fill="none"/>
<circle cx="626.1" cy="253.9" r="1.52" fill="#800080"/>
<circle cx="629.4" cy="258.2" r="1.52" fill="#800080"/>
<circle cx="626.4" cy="260.2" r="1.52" fill="#800080"/>
<circle cx="628.6" cy="262.4" r="1.52" fill="#800080"/>
<circle cx="627.7" cy="263.5" r="1.52" fill="#800080"/>
<path d="M644.5 240.0V248.5" stroke="#222" stroke-width="0.65" fill="none"/>
<path d="M643.98 233.50h1.44v0.78h0.78v1.44h-0.78v0.78h-1.44v-0.78h-0.78v-1.44h0.78Z" fill="#00a84f"/>
<path d="M643.98 238.20h1.44v0.78h0.78v1.44h-0.78v0.78h-1.44v-0.78h-0.78v-1.44h0.78Z" fill="#00a84f"/>
<path d="M642.08 240.80h1.44v0.78h0.78v1.44h-0.78v0.78h-1.44v-0.78h-0.78v-1.44h0.78Z" fill="#00a84f"/>
<path d="M645.38 241.10h1.44v0.78h0.78v1.44h-0.78v0.78h-1.44v-0.78h-0.78v-1.44h0.78Z" fill="#00a84f"/>
<path d="M643.18 244.80h1.44v0.78h0.78v1.44h-0.78v0.78h-1.44v-0.78h-0.78v-1.44h0.78Z" fill="#00a84f"/>
<path d="M645.38 244.10h1.44v0.78h0.78v1.44h-0.78v0.78h-1.44v-0.78h-0.78v-1.44h0.78Z" fill="#00a84f"/>
<path d="M643.98 249.20h1.44v0.78h0.78v1.44h-0.78v0.78h-1.44v-0.78h-0.78v-1.44h0.78Z" fill="#00a84f"/>
<path d="M640.9 245.3H648.1M642.6 240.0H646.4M642.6 248.5H646.4" stroke="#222" stroke-width="0.7" fill="none"/>
<path d="M654.5 244.1V252.0" stroke="#800080" stroke-width="0.65" fill="none"/>
<path d="M650.9 249.2H658.1M652.6 244.1H656.4M652.6 252.0H656.4" stroke="#800080" stroke-width="0.7" fill="none"/>
<circle cx="654.5" cy="241.9" r="1.52" fill="#800080"/>
<circle cx="654.5" cy="246.3" r="1.52" fill="#800080"/>
<circle cx="652.7" cy="249.2" r="1.52" fill="#800080"/>
<circle cx="656.4" cy="249.2" r="1.52" fill="#800080"/>
<circle cx="654.5" cy="252.1" r="1.52" fill="#800080"/>
<line x1="20.0" y1="403.9" x2="203.5" y2="403.9" stroke="#c8c8c8" stroke-width="0.9"/>
<text x="4.4" y="357.7" font-size="6.6" font-weight="bold" text-anchor="middle" fill="#000" stroke="#000" stroke-width="0.2">G</text>
<line x1="18.4" y1="357.5" x2="20.0" y2="357.5" stroke="#3a3a3a" stroke-width="0.8"/>
<text x="17.2" y="359.2" font-size="4.8" font-weight="bold" text-anchor="end" fill="#000" stroke="#000" stroke-width="0.2">5</text>
<line x1="18.4" y1="403.9" x2="20.0" y2="403.9" stroke="#3a3a3a" stroke-width="0.8"/>
<text x="17.2" y="405.6" font-size="4.8" font-weight="bold" text-anchor="end" fill="#000" stroke="#000" stroke-width="0.2">0</text>
<line x1="18.4" y1="450.2" x2="20.0" y2="450.2" stroke="#3a3a3a" stroke-width="0.8"/>
<text x="17.2" y="451.9" font-size="4.8" font-weight="bold" text-anchor="end" fill="#000" stroke="#000" stroke-width="0.2">-5</text>
<line x1="18.4" y1="496.6" x2="20.0" y2="496.6" stroke="#3a3a3a" stroke-width="0.8"/>
<text x="17.2" y="498.3" font-size="4.8" font-weight="bold" text-anchor="end" fill="#000" stroke="#000" stroke-width="0.2">-10</text>
<line x1="31.5" y1="496.4" x2="31.5" y2="498.6" stroke="#222" stroke-width="1.0"/>
<text x="31.5" y="503.9" font-size="5.15" font-weight="bold" font-style="italic" text-anchor="middle" fill="#000" stroke="#000" stroke-width="0.08">20a</text>
<line x1="58.1" y1="496.4" x2="58.1" y2="498.6" stroke="#222" stroke-width="1.0"/>
<text x="58.1" y="503.9" font-size="5.15" font-weight="bold" font-style="italic" text-anchor="middle" fill="#000" stroke="#000" stroke-width="0.08">25</text>
<line x1="84.7" y1="496.4" x2="84.7" y2="498.6" stroke="#222" stroke-width="1.0"/>
<text x="84.7" y="503.9" font-size="5.15" font-weight="bold" font-style="italic" text-anchor="middle" fill="#000" stroke="#000" stroke-width="0.08">26a</text>
<line x1="111.3" y1="496.4" x2="111.3" y2="498.6" stroke="#222" stroke-width="1.0"/>
<text x="111.3" y="503.9" font-size="5.15" font-weight="bold" font-style="italic" text-anchor="middle" fill="#000" stroke="#000" stroke-width="0.08">20a+25</text>
<line x1="137.9" y1="496.4" x2="137.9" y2="498.6" stroke="#222" stroke-width="1.0"/>
<text x="137.9" y="503.9" font-size="5.15" font-weight="bold" font-style="italic" text-anchor="middle" fill="#000" stroke="#000" stroke-width="0.08">20a+26a</text>
<line x1="164.5" y1="496.4" x2="164.5" y2="498.6" stroke="#222" stroke-width="1.0"/>
<text x="164.5" y="503.9" font-size="5.15" font-weight="bold" font-style="italic" text-anchor="middle" fill="#000" stroke="#000" stroke-width="0.08">25+26a</text>
<line x1="191.1" y1="496.4" x2="191.1" y2="498.6" stroke="#222" stroke-width="1.0"/>
<text x="191.1" y="503.9" font-size="5.15" font-weight="bold" font-style="italic" text-anchor="middle" fill="#000" stroke="#000" stroke-width="0.08">20a+25+26a</text>
<path d="M20.00 357.5V496.40H203.5" fill="none" stroke="#3c3c3c" stroke-width="1.1"/>
<text transform="translate(6.2,424.0) rotate(-90)" x="-27.1" y="0" font-size="4.96" font-style="italic" font-weight="normal" textLength="54.3" lengthAdjust="spacingAndGlyphs" fill="#000" stroke="#000" stroke-width="0.22">miR-17 expression (ΔCt)</text>
<circle cx="206.7" cy="467.7" r="1.70" fill="#0000ff"/>
<rect x="205.0" y="471.0" width="3.4" height="3.4" fill="#ff0000"/>
<text x="211.7" y="469.2" font-size="4.5" font-weight="bold" fill="#111" stroke="#111" stroke-width="0.2">CY</text>
<text x="211.7" y="474.3" font-size="4.5" font-weight="bold" fill="#111" stroke="#111" stroke-width="0.2">NC</text>
<path d="M26.5 412.5V427.5" stroke="#333" stroke-width="0.65" fill="none"/>
<path d="M22.9 416.3H30.1M24.6 412.5H28.4" stroke="#333" stroke-width="0.7" fill="none"/>
<circle cx="28.2" cy="407.5" r="1.52" fill="#0000ff"/>
<circle cx="25.0" cy="410.4" r="1.52" fill="#0000ff"/>
<circle cx="27.5" cy="412.5" r="1.52" fill="#0000ff"/>
<circle cx="26.0" cy="414.4" r="1.52" fill="#0000ff"/>
<circle cx="24.1" cy="415.8" r="1.52" fill="#0000ff"/>
<circle cx="28.2" cy="416.5" r="1.52" fill="#0000ff"/>
<circle cx="25.0" cy="420.9" r="1.52" fill="#0000ff"/>
<circle cx="25.0" cy="426.5" r="1.52" fill="#0000ff"/>
<circle cx="28.2" cy="428.0" r="1.52" fill="#0000ff"/>
<circle cx="26.5" cy="433.8" r="1.52" fill="#0000ff"/>
<path d="M36.3 412.5V425.0" stroke="#333" stroke-width="0.65" fill="none"/>
<path d="M32.7 419.2H39.9M34.4 412.5H38.2" stroke="#333" stroke-width="0.7" fill="none"/>
<rect x="31.9" y="409.2" width="3.0" height="3.0" fill="#ff0000"/>
<rect x="37.0" y="408.0" width="3.0" height="3.0" fill="#ff0000"/>
<rect x="33.8" y="412.1" width="3.0" height="3.0" fill="#ff0000"/>
<rect x="38.4" y="415.0" width="3.0" height="3.0" fill="#ff0000"/>
<rect x="36.7" y="416.8" width="3.0" height="3.0" fill="#ff0000"/>
<rect x="33.8" y="420.2" width="3.0" height="3.0" fill="#ff0000"/>
<rect x="33.8" y="423.8" width="3.0" height="3.0" fill="#ff0000"/>
<rect x="35.5" y="424.1" width="3.0" height="3.0" fill="#ff0000"/>
<rect x="36.2" y="422.4" width="3.0" height="3.0" fill="#ff0000"/>
<rect x="34.8" y="436.2" width="3.0" height="3.0" fill="#ff0000"/>
<path d="M53.1 456.4V467.0" stroke="#333" stroke-width="0.65" fill="none"/>
<path d="M49.5 461.3H56.7M51.2 456.4H55.0" stroke="#333" stroke-width="0.7" fill="none"/>
<circle cx="54.8" cy="449.6" r="1.52" fill="#0000ff"/>
<circle cx="51.6" cy="453.1" r="1.52" fill="#0000ff"/>
<circle cx="50.9" cy="457.5" r="1.52" fill="#0000ff"/>
<circle cx="55.3" cy="458.9" r="1.52" fill="#0000ff"/>
<circle cx="53.1" cy="461.3" r="1.52" fill="#0000ff"/>
<circle cx="50.9" cy="467.4" r="1.52" fill="#0000ff"/>
<circle cx="55.3" cy="467.1" r="1.52" fill="#0000ff"/>
<circle cx="53.1" cy="468.6" r="1.52" fill="#0000ff"/>
<circle cx="51.9" cy="469.6" r="1.52" fill="#0000ff"/>
<path d="M63.3 456.4V468.9" stroke="#444" stroke-width="0.65" fill="none"/>
<path d="M59.7 461.5H66.9M61.4 456.4H65.2M61.4 468.9H65.2" stroke="#444" stroke-width="0.7" fill="none"/>
<rect x="60.1" y="451.0" width="3.0" height="3.0" fill="#ff0000"/>
<rect x="63.6" y="449.8" width="3.0" height="3.0" fill="#ff0000"/>
<rect x="60.1" y="455.7" width="3.0" height="3.0" fill="#ff0000"/>
<rect x="63.3" y="458.3" width="3.0" height="3.0" fill="#ff0000"/>
<rect x="59.6" y="461.5" width="3.0" height="3.0" fill="#ff0000"/>
<rect x="64.0" y="461.2" width="3.0" height="3.0" fill="#ff0000"/>
<rect x="61.1" y="465.2" width="3.0" height="3.0" fill="#ff0000"/>
<rect x="63.0" y="465.2" width="3.0" height="3.0" fill="#ff0000"/>
<rect x="61.8" y="475.4" width="3.0" height="3.0" fill="#ff0000"/>
<rect x="61.8" y="489.6" width="3.0" height="3.0" fill="#ff0000"/>
<path d="M79.9 397.5V415.0" stroke="#888" stroke-width="0.7" fill="none"/>
<path d="M76.3 403.1H83.5M78.0 397.5H81.8" stroke="#555" stroke-width="0.7" fill="none"/>
<circle cx="79.8" cy="388.8" r="1.52" fill="#0000ff"/>
<circle cx="79.8" cy="394.3" r="1.52" fill="#0000ff"/>
<circle cx="78.7" cy="398.7" r="1.52" fill="#0000ff"/>
<circle cx="80.9" cy="399.3" r="1.52" fill="#0000ff"/>
<circle cx="79.8" cy="405.6" r="1.52" fill="#0000ff"/>
<circle cx="78.2" cy="415.1" r="1.52" fill="#0000ff"/>
<circle cx="83.1" cy="415.4" r="1.52" fill="#0000ff"/>
<circle cx="81.6" cy="418.3" r="1.52" fill="#0000ff"/>
<circle cx="78.2" cy="420.9" r="1.52" fill="#0000ff"/>
<path d="M89.9 399.0V417.0" stroke="#333" stroke-width="0.65" fill="none"/>
<path d="M86.3 408.1H93.5M88.0 399.0H91.8" stroke="#333" stroke-width="0.7" fill="none"/>
<rect x="87.1" y="393.9" width="3.0" height="3.0" fill="#ff0000"/>
<rect x="89.6" y="396.8" width="3.0" height="3.0" fill="#ff0000"/>
<rect x="88.1" y="397.5" width="3.0" height="3.0" fill="#ff0000"/>
<rect x="86.7" y="400.7" width="3.0" height="3.0" fill="#ff0000"/>
<rect x="89.6" y="403.6" width="3.0" height="3.0" fill="#ff0000"/>
<rect x="88.1" y="409.5" width="3.0" height="3.0" fill="#ff0000"/>
<rect x="87.4" y="415.0" width="3.0" height="3.0" fill="#ff0000"/>
<rect x="89.6" y="415.0" width="3.0" height="3.0" fill="#ff0000"/>
<rect x="88.1" y="420.9" width="3.0" height="3.0" fill="#ff0000"/>
<path d="M106.3 435.5V447.0" stroke="#333" stroke-width="0.65" fill="none"/>
<path d="M102.7 436.0H109.9" stroke="#333" stroke-width="0.7" fill="none"/>
<circle cx="105.0" cy="428.2" r="1.52" fill="#0000ff"/>
<circle cx="108.4" cy="432.0" r="1.52" fill="#0000ff"/>
<circle cx="104.3" cy="436.4" r="1.52" fill="#0000ff"/>
<circle cx="106.4" cy="436.0" r="1.52" fill="#0000ff"/>
<circle cx="108.9" cy="436.4" r="1.52" fill="#0000ff"/>
<circle cx="105.7" cy="439.6" r="1.52" fill="#0000ff"/>
<circle cx="106.4" cy="444.3" r="1.52" fill="#0000ff"/>
<circle cx="105.0" cy="447.2" r="1.52" fill="#0000ff"/>
<circle cx="107.9" cy="447.7" r="1.52" fill="#0000ff"/>
<circle cx="106.4" cy="451.6" r="1.52" fill="#0000ff"/>
<path d="M116.2 433.0V447.0" stroke="#444" stroke-width="0.65" fill="none"/>
<path d="M112.6 441.1H119.8" stroke="#444" stroke-width="0.7" fill="none"/>
<rect x="113.7" y="428.9" width="3.0" height="3.0" fill="#ff0000"/>
<rect x="115.9" y="431.9" width="3.0" height="3.0" fill="#ff0000"/>
<rect x="113.4" y="436.7" width="3.0" height="3.0" fill="#ff0000"/>
<rect x="117.0" y="438.5" width="3.0" height="3.0" fill="#ff0000"/>
<rect x="114.0" y="440.6" width="3.0" height="3.0" fill="#ff0000"/>
<rect x="115.9" y="444.6" width="3.0" height="3.0" fill="#ff0000"/>
<rect x="114.9" y="449.4" width="3.0" height="3.0" fill="#ff0000"/>
<rect x="115.2" y="463.0" width="3.0" height="3.0" fill="#ff0000"/>
<path d="M133.1 405.6V422.0" stroke="#333" stroke-width="0.65" fill="none"/>
<path d="M129.5 407.0H136.7M131.2 405.6H135.0" stroke="#333" stroke-width="0.7" fill="none"/>
<circle cx="131.6" cy="400.5" r="1.52" fill="#0000ff"/>
<circle cx="135.0" cy="399.3" r="1.52" fill="#0000ff"/>
<circle cx="131.0" cy="406.3" r="1.52" fill="#0000ff"/>
<circle cx="134.2" cy="407.8" r="1.52" fill="#0000ff"/>
<circle cx="133.1" cy="408.5" r="1.52" fill="#0000ff"/>
<circle cx="133.1" cy="418.0" r="1.52" fill="#0000ff"/>
<circle cx="131.3" cy="421.7" r="1.52" fill="#0000ff"/>
<circle cx="135.0" cy="422.4" r="1.52" fill="#0000ff"/>
<circle cx="133.1" cy="427.1" r="1.52" fill="#0000ff"/>
<path d="M143.3 406.0V421.0" stroke="#888" stroke-width="0.7" fill="none"/>
<path d="M139.7 413.6H146.9" stroke="#555" stroke-width="0.7" fill="none"/>
<rect x="140.8" y="400.7" width="3.0" height="3.0" fill="#ff0000"/>
<rect x="143.0" y="403.1" width="3.0" height="3.0" fill="#ff0000"/>
<rect x="141.8" y="405.1" width="3.0" height="3.0" fill="#ff0000"/>
<rect x="139.8" y="408.0" width="3.0" height="3.0" fill="#ff0000"/>
<rect x="143.3" y="409.9" width="3.0" height="3.0" fill="#ff0000"/>
<rect x="141.8" y="414.8" width="3.0" height="3.0" fill="#ff0000"/>
<rect x="140.8" y="419.7" width="3.0" height="3.0" fill="#ff0000"/>
<rect x="143.0" y="419.7" width="3.0" height="3.0" fill="#ff0000"/>
<rect x="141.8" y="428.5" width="3.0" height="3.0" fill="#ff0000"/>
<path d="M159.8 427.5V441.0" stroke="#333" stroke-width="0.65" fill="none"/>
<path d="M156.2 431.5H163.4M157.9 427.5H161.7" stroke="#333" stroke-width="0.7" fill="none"/>
<circle cx="157.9" cy="422.1" r="1.52" fill="#0000ff"/>
<circle cx="161.3" cy="420.9" r="1.52" fill="#0000ff"/>
<circle cx="157.3" cy="429.0" r="1.52" fill="#0000ff"/>
<circle cx="160.8" cy="429.7" r="1.52" fill="#0000ff"/>
<circle cx="159.1" cy="430.9" r="1.52" fill="#0000ff"/>
<circle cx="159.8" cy="433.4" r="1.52" fill="#0000ff"/>
<circle cx="157.3" cy="441.1" r="1.52" fill="#0000ff"/>
<circle cx="161.7" cy="441.1" r="1.52" fill="#0000ff"/>
<circle cx="160.3" cy="443.2" r="1.52" fill="#0000ff"/>
<circle cx="158.8" cy="445.5" r="1.52" fill="#0000ff"/>
<path d="M169.6 427.5V442.0" stroke="#333" stroke-width="0.65" fill="none"/>
<path d="M166.0 435.3H173.2M167.7 427.5H171.5" stroke="#333" stroke-width="0.7" fill="none"/>
<rect x="166.7" y="421.6" width="3.0" height="3.0" fill="#ff0000"/>
<rect x="171.5" y="424.1" width="3.0" height="3.0" fill="#ff0000"/>
<rect x="169.6" y="426.0" width="3.0" height="3.0" fill="#ff0000"/>
<rect x="164.9" y="429.7" width="3.0" height="3.0" fill="#ff0000"/>
<rect x="167.1" y="432.6" width="3.0" height="3.0" fill="#ff0000"/>
<rect x="170.0" y="435.2" width="3.0" height="3.0" fill="#ff0000"/>
<rect x="166.7" y="439.9" width="3.0" height="3.0" fill="#ff0000"/>
<rect x="170.0" y="439.9" width="3.0" height="3.0" fill="#ff0000"/>
<rect x="168.1" y="445.8" width="3.0" height="3.0" fill="#ff0000"/>
<rect x="168.1" y="455.0" width="3.0" height="3.0" fill="#ff0000"/>
<path d="M186.1 422.7V437.0" stroke="#333" stroke-width="0.65" fill="none"/>
<path d="M182.5 425.6H189.7M184.2 422.7H188.0" stroke="#333" stroke-width="0.7" fill="none"/>
<circle cx="184.7" cy="417.3" r="1.52" fill="#0000ff"/>
<circle cx="188.3" cy="417.7" r="1.52" fill="#0000ff"/>
<circle cx="184.2" cy="423.9" r="1.52" fill="#0000ff"/>
<circle cx="186.6" cy="424.6" r="1.52" fill="#0000ff"/>
<circle cx="189.1" cy="424.2" r="1.52" fill="#0000ff"/>
<circle cx="185.1" cy="426.5" r="1.52" fill="#0000ff"/>
<circle cx="184.7" cy="434.8" r="1.52" fill="#0000ff"/>
<circle cx="188.3" cy="437.0" r="1.52" fill="#0000ff"/>
<circle cx="189.8" cy="437.7" r="1.52" fill="#0000ff"/>
<circle cx="184.7" cy="441.7" r="1.52" fill="#0000ff"/>
<path d="M196.4 422.4V437.0" stroke="#444" stroke-width="0.65" fill="none"/>
<path d="M192.8 430.0H200.0M194.5 422.4H198.3" stroke="#444" stroke-width="0.7" fill="none"/>
<rect x="196.8" y="417.2" width="3.0" height="3.0" fill="#ff0000"/>
<rect x="192.0" y="420.2" width="3.0" height="3.0" fill="#ff0000"/>
<rect x="193.9" y="420.9" width="3.0" height="3.0" fill="#ff0000"/>
<rect x="198.2" y="425.0" width="3.0" height="3.0" fill="#ff0000"/>
<rect x="196.8" y="426.7" width="3.0" height="3.0" fill="#ff0000"/>
<rect x="193.0" y="430.0" width="3.0" height="3.0" fill="#ff0000"/>
<rect x="193.9" y="434.8" width="3.0" height="3.0" fill="#ff0000"/>
<rect x="195.9" y="434.8" width="3.0" height="3.0" fill="#ff0000"/>
<rect x="194.9" y="438.5" width="3.0" height="3.0" fill="#ff0000"/>
<rect x="194.9" y="449.0" width="3.0" height="3.0" fill="#ff0000"/>
<line x1="250.4" y1="390.2" x2="430.7" y2="390.2" stroke="#c8c8c8" stroke-width="0.9"/>
<text x="234.5" y="357.1" font-size="6.6" font-weight="bold" text-anchor="middle" fill="#000" stroke="#000" stroke-width="0.2">H</text>
<line x1="248.8" y1="355.4" x2="250.4" y2="355.4" stroke="#3a3a3a" stroke-width="0.8"/>
<text x="247.6" y="357.1" font-size="4.8" font-weight="bold" text-anchor="end" fill="#000" stroke="#000" stroke-width="0.2">5</text>
<line x1="248.8" y1="390.2" x2="250.4" y2="390.2" stroke="#3a3a3a" stroke-width="0.8"/>
<text x="247.6" y="391.9" font-size="4.8" font-weight="bold" text-anchor="end" fill="#000" stroke="#000" stroke-width="0.2">0</text>
<line x1="248.8" y1="424.9" x2="250.4" y2="424.9" stroke="#3a3a3a" stroke-width="0.8"/>
<text x="247.6" y="426.6" font-size="4.8" font-weight="bold" text-anchor="end" fill="#000" stroke="#000" stroke-width="0.2">-5</text>
<line x1="248.8" y1="459.7" x2="250.4" y2="459.7" stroke="#3a3a3a" stroke-width="0.8"/>
<text x="247.6" y="461.4" font-size="4.8" font-weight="bold" text-anchor="end" fill="#000" stroke="#000" stroke-width="0.2">-10</text>
<line x1="248.8" y1="494.4" x2="250.4" y2="494.4" stroke="#3a3a3a" stroke-width="0.8"/>
<text x="247.6" y="496.1" font-size="4.8" font-weight="bold" text-anchor="end" fill="#000" stroke="#000" stroke-width="0.2">-15</text>
<line x1="261.8" y1="494.3" x2="261.8" y2="496.5" stroke="#222" stroke-width="1.0"/>
<text x="261.8" y="501.6" font-size="5.15" font-weight="bold" font-style="italic" text-anchor="middle" fill="#000" stroke="#000" stroke-width="0.08">20a</text>
<line x1="288.1" y1="494.3" x2="288.1" y2="496.5" stroke="#222" stroke-width="1.0"/>
<text x="288.1" y="501.6" font-size="5.15" font-weight="bold" font-style="italic" text-anchor="middle" fill="#000" stroke="#000" stroke-width="0.08">25</text>
<line x1="314.4" y1="494.3" x2="314.4" y2="496.5" stroke="#222" stroke-width="1.0"/>
<text x="314.4" y="501.6" font-size="5.15" font-weight="bold" font-style="italic" text-anchor="middle" fill="#000" stroke="#000" stroke-width="0.08">26a</text>
<line x1="340.6" y1="494.3" x2="340.6" y2="496.5" stroke="#222" stroke-width="1.0"/>
<text x="340.6" y="501.6" font-size="5.15" font-weight="bold" font-style="italic" text-anchor="middle" fill="#000" stroke="#000" stroke-width="0.08">20a+25</text>
<line x1="366.9" y1="494.3" x2="366.9" y2="496.5" stroke="#222" stroke-width="1.0"/>
<text x="366.9" y="501.6" font-size="5.15" font-weight="bold" font-style="italic" text-anchor="middle" fill="#000" stroke="#000" stroke-width="0.08">20a+26a</text>
<line x1="393.2" y1="494.3" x2="393.2" y2="496.5" stroke="#222" stroke-width="1.0"/>
<text x="393.2" y="501.6" font-size="5.15" font-weight="bold" font-style="italic" text-anchor="middle" fill="#000" stroke="#000" stroke-width="0.08">25+26a</text>
<line x1="419.5" y1="494.3" x2="419.5" y2="496.5" stroke="#222" stroke-width="1.0"/>
<text x="419.5" y="501.6" font-size="5.15" font-weight="bold" font-style="italic" text-anchor="middle" fill="#000" stroke="#000" stroke-width="0.08">20a+25+26a</text>
<path d="M250.40 355.4V494.30H430.7" fill="none" stroke="#3c3c3c" stroke-width="1.1"/>
<text transform="translate(236.8,422.7) rotate(-90)" x="-26.7" y="0" font-size="4.88" font-style="italic" font-weight="normal" textLength="53.4" lengthAdjust="spacingAndGlyphs" fill="#000" stroke="#000" stroke-width="0.22">miR-17 expression (ΔCt)</text>
<path d="M434.4 467.9L435.8 470.5L432.9 470.5Z" fill="#ff7f0e"/>
<path d="M434.4 474.5L436.0 471.6L432.8 471.6Z" fill="#000000"/>
<text x="439.4" y="470.8" font-size="4.3" font-weight="bold" fill="#111" stroke="#111" stroke-width="0.1">HT</text>
<text x="439.4" y="474.5" font-size="4.3" font-weight="bold" fill="#111" stroke="#111" stroke-width="0.1">WT</text>
<path d="M256.6 393.3V403.5" stroke="#333" stroke-width="0.65" fill="none"/>
<path d="M253.0 399.1H260.2M254.7 393.3H258.5M254.7 403.5H258.5" stroke="#333" stroke-width="0.7" fill="none"/>
<path d="M256.6 390.4L258.1 393.0L255.2 393.0Z" fill="#ff7f0e"/>
<path d="M255.1 393.2L256.6 395.9L253.7 395.9Z" fill="#ff7f0e"/>
<path d="M258.8 395.4L260.2 398.1L257.4 398.1Z" fill="#ff7f0e"/>
<path d="M255.8 400.6L257.2 403.2L254.4 403.2Z" fill="#ff7f0e"/>
<path d="M257.6 401.7L259.1 404.3L256.2 404.3Z" fill="#ff7f0e"/>
<path d="M266.8 396.0V401.0" stroke="#888" stroke-width="0.7" fill="none"/>
<path d="M263.2 398.4H270.4M264.9 396.0H268.7M264.9 401.0H268.7" stroke="#555" stroke-width="0.7" fill="none"/>
<path d="M267.5 395.6L269.1 392.7L265.9 392.7Z" fill="#000000"/>
<path d="M265.4 400.0L267.0 397.1L263.8 397.1Z" fill="#000000"/>
<path d="M266.8 401.5L268.4 398.6L265.2 398.6Z" fill="#000000"/>
<path d="M268.3 400.0L269.9 397.1L266.7 397.1Z" fill="#000000"/>
<path d="M266.8 404.1L268.4 401.2L265.2 401.2Z" fill="#000000"/>
<path d="M282.9 426.2V446.3" stroke="#999" stroke-width="0.7" fill="none"/>
<path d="M279.3 431.3H286.5M281.0 426.2H284.8M281.0 446.3H284.8" stroke="#555" stroke-width="0.7" fill="none"/>
<path d="M281.9 422.6L283.3 425.2L280.4 425.2Z" fill="#ff7f0e"/>
<path d="M283.3 425.9L284.8 428.5L281.9 428.5Z" fill="#ff7f0e"/>
<path d="M283.9 426.9L285.3 429.6L282.4 429.6Z" fill="#ff7f0e"/>
<path d="M281.0 434.2L282.4 436.9L279.6 436.9Z" fill="#ff7f0e"/>
<path d="M284.8 438.7L286.2 441.3L283.4 441.3Z" fill="#ff7f0e"/>
<path d="M282.9 464.2L284.3 466.8L281.4 466.8Z" fill="#ff7f0e"/>
<path d="M292.7 430.5V436.0" stroke="#888" stroke-width="0.7" fill="none"/>
<path d="M289.1 433.5H296.3" stroke="#555" stroke-width="0.7" fill="none"/>
<path d="M291.2 431.0L292.8 428.1L289.6 428.1Z" fill="#000000"/>
<path d="M293.9 434.3L295.5 431.4L292.3 431.4Z" fill="#000000"/>
<path d="M290.9 436.5L292.5 433.6L289.3 433.6Z" fill="#000000"/>
<path d="M295.0 435.8L296.6 432.9L293.4 432.9Z" fill="#000000"/>
<path d="M292.4 438.7L294.0 435.8L290.8 435.8Z" fill="#000000"/>
<path d="M309.2 387.4V401.6" stroke="#333" stroke-width="0.65" fill="none"/>
<path d="M305.6 394.3H312.8M307.3 387.4H311.1M307.3 401.6H311.1" stroke="#333" stroke-width="0.7" fill="none"/>
<path d="M309.2 384.6L310.6 387.2L307.8 387.2Z" fill="#ff7f0e"/>
<path d="M307.7 386.4L309.1 389.1L306.2 389.1Z" fill="#ff7f0e"/>
<path d="M311.1 389.7L312.6 392.3L309.7 392.3Z" fill="#ff7f0e"/>
<path d="M308.2 397.2L309.6 399.9L306.8 399.9Z" fill="#ff7f0e"/>
<path d="M309.6 399.9L311.1 402.5L308.2 402.5Z" fill="#ff7f0e"/>
<path d="M319.4 386.5V397.0" stroke="#777" stroke-width="0.7" fill="none"/>
<path d="M315.8 392.3H323.0M317.5 386.5H321.3M317.5 397.0H321.3" stroke="#555" stroke-width="0.7" fill="none"/>
<path d="M319.0 383.6L320.6 380.7L317.4 380.7Z" fill="#000000"/>
<path d="M317.5 388.3L319.1 385.4L315.9 385.4Z" fill="#000000"/>
<path d="M320.9 389.0L322.5 386.1L319.3 386.1Z" fill="#000000"/>
<path d="M318.4 395.6L320.0 392.7L316.8 392.7Z" fill="#000000"/>
<path d="M319.4 399.3L321.0 396.4L317.8 396.4Z" fill="#000000"/>
<path d="M335.1 410.8V424.4" stroke="#333" stroke-width="0.65" fill="none"/>
<path d="M331.5 415.2H338.7M333.2 410.8H337.0M333.2 424.4H337.0" stroke="#333" stroke-width="0.7" fill="none"/>
<path d="M334.5 406.4L335.9 409.1L333.1 409.1Z" fill="#ff7f0e"/>
<path d="M336.5 410.4L337.9 413.0L335.1 413.0Z" fill="#ff7f0e"/>
<path d="M333.6 417.4L335.1 420.1L332.2 420.1Z" fill="#ff7f0e"/>
<path d="M337.4 420.4L338.8 423.0L335.9 423.0Z" fill="#ff7f0e"/>
<path d="M335.5 432.8L336.9 435.4L334.1 435.4Z" fill="#ff7f0e"/>
<path d="M345.3 414.0V420.0" stroke="#333" stroke-width="0.65" fill="none"/>
<path d="M341.7 417.4H348.9" stroke="#333" stroke-width="0.7" fill="none"/>
<path d="M346.5 413.9L348.1 411.0L344.9 411.0Z" fill="#000000"/>
<path d="M344.3 417.5L345.9 414.6L342.7 414.6Z" fill="#000000"/>
<path d="M346.5 418.3L348.1 415.4L344.9 415.4Z" fill="#000000"/>
<path d="M345.3 420.5L346.9 417.6L343.7 417.6Z" fill="#000000"/>
<path d="M345.8 421.9L347.4 419.0L344.2 419.0Z" fill="#000000"/>
<path d="M361.6 390.8V401.3" stroke="#333" stroke-width="0.65" fill="none"/>
<path d="M358.0 397.2H365.2M359.7 390.8H363.5M359.7 401.3H363.5" stroke="#333" stroke-width="0.7" fill="none"/>
<path d="M361.6 387.4L363.1 390.1L360.2 390.1Z" fill="#ff7f0e"/>
<path d="M359.9 389.7L361.3 392.3L358.4 392.3Z" fill="#ff7f0e"/>
<path d="M363.5 392.6L364.9 395.2L362.1 395.2Z" fill="#ff7f0e"/>
<path d="M360.6 399.6L362.1 402.2L359.2 402.2Z" fill="#ff7f0e"/>
<path d="M362.8 400.6L364.2 403.2L361.4 403.2Z" fill="#ff7f0e"/>
<path d="M371.5 390.5V399.0" stroke="#888" stroke-width="0.7" fill="none"/>
<path d="M367.9 395.5H375.1" stroke="#555" stroke-width="0.7" fill="none"/>
<path d="M372.3 390.5L373.9 387.6L370.7 387.6Z" fill="#000000"/>
<path d="M370.4 392.4L372.0 389.5L368.8 389.5Z" fill="#000000"/>
<path d="M371.8 393.9L373.4 391.0L370.2 391.0Z" fill="#000000"/>
<path d="M370.8 400.0L372.4 397.1L369.2 397.1Z" fill="#000000"/>
<path d="M372.3 401.5L373.9 398.6L370.7 398.6Z" fill="#000000"/>
<path d="M387.9 406.4V423.0" stroke="#555" stroke-width="0.65" fill="none"/>
<path d="M384.3 413.3H391.5M386.0 406.4H389.8M386.0 423.0H389.8" stroke="#555" stroke-width="0.7" fill="none"/>
<path d="M386.9 403.9L388.3 406.6L385.4 406.6Z" fill="#ff7f0e"/>
<path d="M388.8 406.4L390.2 409.1L387.4 409.1Z" fill="#ff7f0e"/>
<path d="M387.9 407.9L389.3 410.6L386.4 410.6Z" fill="#ff7f0e"/>
<path d="M386.2 416.7L387.6 419.3L384.8 419.3Z" fill="#ff7f0e"/>
<path d="M389.8 419.2L391.2 421.8L388.4 421.8Z" fill="#ff7f0e"/>
<path d="M387.9 430.9L389.3 433.5L386.4 433.5Z" fill="#ff7f0e"/>
<path d="M397.9 409.0V417.0" stroke="#333" stroke-width="0.65" fill="none"/>
<path d="M394.3 413.3H401.5" stroke="#333" stroke-width="0.7" fill="none"/>
<path d="M397.1 409.5L398.7 406.6L395.5 406.6Z" fill="#000000"/>
<path d="M399.3 409.9L400.9 407.0L397.7 407.0Z" fill="#000000"/>
<path d="M397.9 411.4L399.5 408.5L396.3 408.5Z" fill="#000000"/>
<path d="M397.1 418.3L398.7 415.4L395.5 415.4Z" fill="#000000"/>
<path d="M399.0 419.0L400.6 416.1L397.4 416.1Z" fill="#000000"/>
<path d="M397.9 420.2L399.5 417.3L396.3 417.3Z" fill="#000000"/>
<path d="M414.2 402.5V416.2" stroke="#666" stroke-width="0.65" fill="none"/>
<path d="M410.6 408.9H417.8M412.3 402.5H416.1M412.3 416.2H416.1" stroke="#666" stroke-width="0.7" fill="none"/>
<path d="M413.2 399.6L414.6 402.2L411.8 402.2Z" fill="#ff7f0e"/>
<path d="M415.1 402.8L416.6 405.4L413.7 405.4Z" fill="#ff7f0e"/>
<path d="M413.9 403.9L415.3 406.6L412.4 406.6Z" fill="#ff7f0e"/>
<path d="M412.2 411.9L413.6 414.5L410.8 414.5Z" fill="#ff7f0e"/>
<path d="M416.1 413.4L417.6 416.0L414.7 416.0Z" fill="#ff7f0e"/>
<path d="M414.2 420.7L415.6 423.3L412.8 423.3Z" fill="#ff7f0e"/>
<path d="M424.2 405.0V412.0" stroke="#888" stroke-width="0.7" fill="none"/>
<path d="M420.6 408.6H427.8" stroke="#555" stroke-width="0.7" fill="none"/>
<path d="M423.4 405.1L425.0 402.2L421.8 402.2Z" fill="#000000"/>
<path d="M425.4 405.8L427.0 402.9L423.8 402.9Z" fill="#000000"/>
<path d="M424.2 408.0L425.8 405.1L422.6 405.1Z" fill="#000000"/>
<path d="M423.4 412.9L425.0 410.0L421.8 410.0Z" fill="#000000"/>
<path d="M425.4 413.4L427.0 410.5L423.8 410.5Z" fill="#000000"/>
<path d="M424.5 414.6L426.1 411.7L422.9 411.7Z" fill="#000000"/>
<line x1="478.8" y1="386.3" x2="663.7" y2="386.3" stroke="#c8c8c8" stroke-width="0.9"/>
<text x="463" y="357.1" font-size="6.6" font-weight="bold" text-anchor="middle" fill="#000" stroke="#000" stroke-width="0.2">I</text>
<line x1="477.2" y1="358.3" x2="478.8" y2="358.3" stroke="#5a5a5a" stroke-width="0.8"/>
<text x="476.0" y="360.0" font-size="4.8" font-weight="bold" text-anchor="end" fill="#000" stroke="#000" stroke-width="0.2">2</text>
<line x1="477.2" y1="386.3" x2="478.8" y2="386.3" stroke="#5a5a5a" stroke-width="0.8"/>
<text x="476.0" y="388.0" font-size="4.8" font-weight="bold" text-anchor="end" fill="#000" stroke="#000" stroke-width="0.2">0</text>
<line x1="477.2" y1="414.3" x2="478.8" y2="414.3" stroke="#5a5a5a" stroke-width="0.8"/>
<text x="476.0" y="416.0" font-size="4.8" font-weight="bold" text-anchor="end" fill="#000" stroke="#000" stroke-width="0.2">-2</text>
<line x1="477.2" y1="442.3" x2="478.8" y2="442.3" stroke="#5a5a5a" stroke-width="0.8"/>
<text x="476.0" y="444.0" font-size="4.8" font-weight="bold" text-anchor="end" fill="#000" stroke="#000" stroke-width="0.2">-4</text>
<line x1="477.2" y1="470.3" x2="478.8" y2="470.3" stroke="#5a5a5a" stroke-width="0.8"/>
<text x="476.0" y="472.0" font-size="4.8" font-weight="bold" text-anchor="end" fill="#000" stroke="#000" stroke-width="0.2">-6</text>
<line x1="477.2" y1="498.3" x2="478.8" y2="498.3" stroke="#5a5a5a" stroke-width="0.8"/>
<text x="476.0" y="500.0" font-size="4.8" font-weight="bold" text-anchor="end" fill="#000" stroke="#000" stroke-width="0.2">-8</text>
<line x1="490.6" y1="498.3" x2="490.6" y2="500.5" stroke="#222" stroke-width="1.0"/>
<text x="490.6" y="505.5" font-size="5.15" font-weight="bold" font-style="italic" text-anchor="middle" fill="#000" stroke="#000" stroke-width="0.08">20a</text>
<line x1="517.5" y1="498.3" x2="517.5" y2="500.5" stroke="#222" stroke-width="1.0"/>
<text x="517.5" y="505.5" font-size="5.15" font-weight="bold" font-style="italic" text-anchor="middle" fill="#000" stroke="#000" stroke-width="0.08">25</text>
<line x1="544.3" y1="498.3" x2="544.3" y2="500.5" stroke="#222" stroke-width="1.0"/>
<text x="544.3" y="505.5" font-size="5.15" font-weight="bold" font-style="italic" text-anchor="middle" fill="#000" stroke="#000" stroke-width="0.08">26a</text>
<line x1="571.2" y1="498.3" x2="571.2" y2="500.5" stroke="#222" stroke-width="1.0"/>
<text x="571.2" y="505.5" font-size="5.15" font-weight="bold" font-style="italic" text-anchor="middle" fill="#000" stroke="#000" stroke-width="0.08">20a+25</text>
<line x1="598.1" y1="498.3" x2="598.1" y2="500.5" stroke="#222" stroke-width="1.0"/>
<text x="598.1" y="505.5" font-size="5.15" font-weight="bold" font-style="italic" text-anchor="middle" fill="#000" stroke="#000" stroke-width="0.08">20a+26a</text>
<line x1="625.0" y1="498.3" x2="625.0" y2="500.5" stroke="#222" stroke-width="1.0"/>
<text x="625.0" y="505.5" font-size="5.15" font-weight="bold" font-style="italic" text-anchor="middle" fill="#000" stroke="#000" stroke-width="0.08">25+26a</text>
<line x1="651.8" y1="498.3" x2="651.8" y2="500.5" stroke="#222" stroke-width="1.0"/>
<text x="651.8" y="505.5" font-size="5.15" font-weight="bold" font-style="italic" text-anchor="middle" fill="#000" stroke="#000" stroke-width="0.08">20a+25+26a</text>
<path d="M478.80 358.3V498.30H663.7" fill="none" stroke="#3c3c3c" stroke-width="1.1"/>
<text transform="translate(466.8,424.0) rotate(-90)" x="-28.9" y="0" font-size="5.29" font-style="italic" font-weight="normal" textLength="57.9" lengthAdjust="spacingAndGlyphs" fill="#000" stroke="#000" stroke-width="0.22">miR-17 expression (ΔCt)</text>
<path d="M666.69 465.62h1.61v0.87h0.87v1.61h-0.87v0.87h-1.61v-0.87h-0.87v-1.61h0.87Z" fill="#00a84f"/>
<circle cx="667.5" cy="472.7" r="1.70" fill="#800080"/>
<text x="672.5" y="468.8" font-size="4.5" font-weight="bold" fill="#111" stroke="#111" stroke-width="0.2">SC</text>
<text x="672.5" y="474.3" font-size="4.5" font-weight="bold" fill="#111" stroke="#111" stroke-width="0.2">CO</text>
<path d="M485.5 389.6V395.5" stroke="#222" stroke-width="0.65" fill="none"/>
<path d="M486.78 385.90h1.44v0.78h0.78v1.44h-0.78v0.78h-1.44v-0.78h-0.78v-1.44h0.78Z" fill="#00a84f"/>
<path d="M483.08 388.10h1.44v0.78h0.78v1.44h-0.78v0.78h-1.44v-0.78h-0.78v-1.44h0.78Z" fill="#00a84f"/>
<path d="M483.88 390.30h1.44v0.78h0.78v1.44h-0.78v0.78h-1.44v-0.78h-0.78v-1.44h0.78Z" fill="#00a84f"/>
<path d="M487.18 390.80h1.44v0.78h0.78v1.44h-0.78v0.78h-1.44v-0.78h-0.78v-1.44h0.78Z" fill="#00a84f"/>
<path d="M485.28 393.20h1.44v0.78h0.78v1.44h-0.78v0.78h-1.44v-0.78h-0.78v-1.44h0.78Z" fill="#00a84f"/>
<path d="M484.58 404.90h1.44v0.78h0.78v1.44h-0.78v0.78h-1.44v-0.78h-0.78v-1.44h0.78Z" fill="#00a84f"/>
<path d="M481.9 392.3H489.1M483.6 389.6H487.4M483.6 395.5H487.4" stroke="#222" stroke-width="0.7" fill="none"/>
<path d="M495.5 393.5V397.0" stroke="#777" stroke-width="0.7" fill="none"/>
<path d="M491.9 395.2H499.1" stroke="#555" stroke-width="0.7" fill="none"/>
<circle cx="495.5" cy="392.8" r="1.52" fill="#800080"/>
<circle cx="493.4" cy="395.5" r="1.52" fill="#800080"/>
<circle cx="497.7" cy="395.2" r="1.52" fill="#800080"/>
<circle cx="494.8" cy="397.7" r="1.52" fill="#800080"/>
<circle cx="496.5" cy="394.5" r="1.52" fill="#800080"/>
<path d="M512.5 469.5V476.6" stroke="#444" stroke-width="0.65" fill="none"/>
<path d="M509.28 466.80h1.44v0.78h0.78v1.44h-0.78v0.78h-1.44v-0.78h-0.78v-1.44h0.78Z" fill="#00a84f"/>
<path d="M513.98 467.40h1.44v0.78h0.78v1.44h-0.78v0.78h-1.44v-0.78h-0.78v-1.44h0.78Z" fill="#00a84f"/>
<path d="M511.78 468.50h1.44v0.78h0.78v1.44h-0.78v0.78h-1.44v-0.78h-0.78v-1.44h0.78Z" fill="#00a84f"/>
<path d="M510.38 472.90h1.44v0.78h0.78v1.44h-0.78v0.78h-1.44v-0.78h-0.78v-1.44h0.78Z" fill="#00a84f"/>
<path d="M512.88 474.70h1.44v0.78h0.78v1.44h-0.78v0.78h-1.44v-0.78h-0.78v-1.44h0.78Z" fill="#00a84f"/>
<path d="M511.78 476.30h1.44v0.78h0.78v1.44h-0.78v0.78h-1.44v-0.78h-0.78v-1.44h0.78Z" fill="#00a84f"/>
<path d="M508.9 471.2H516.1M510.6 469.5H514.4M510.6 476.6H514.4" stroke="#444" stroke-width="0.7" fill="none"/>
<path d="M522.4 464.4V473.0" stroke="#333" stroke-width="0.65" fill="none"/>
<path d="M518.8 469.6H526.0M520.5 464.4H524.3" stroke="#333" stroke-width="0.7" fill="none"/>
<circle cx="522.4" cy="461.4" r="1.52" fill="#800080"/>
<circle cx="522.4" cy="466.7" r="1.52" fill="#800080"/>
<circle cx="521.3" cy="469.6" r="1.52" fill="#800080"/>
<circle cx="523.5" cy="469.6" r="1.52" fill="#800080"/>
<circle cx="522.4" cy="473.9" r="1.52" fill="#800080"/>
<path d="M539.4 392.5V400.6" stroke="#222" stroke-width="0.65" fill="none"/>
<path d="M538.68 383.40h1.44v0.78h0.78v1.44h-0.78v0.78h-1.44v-0.78h-0.78v-1.44h0.78Z" fill="#00a84f"/>
<path d="M536.48 391.80h1.44v0.78h0.78v1.44h-0.78v0.78h-1.44v-0.78h-0.78v-1.44h0.78Z" fill="#00a84f"/>
<path d="M540.88 391.80h1.44v0.78h0.78v1.44h-0.78v0.78h-1.44v-0.78h-0.78v-1.44h0.78Z" fill="#00a84f"/>
<path d="M539.38 395.40h1.44v0.78h0.78v1.44h-0.78v0.78h-1.44v-0.78h-0.78v-1.44h0.78Z" fill="#00a84f"/>
<path d="M540.48 399.10h1.44v0.78h0.78v1.44h-0.78v0.78h-1.44v-0.78h-0.78v-1.44h0.78Z" fill="#00a84f"/>
<path d="M536.48 401.60h1.44v0.78h0.78v1.44h-0.78v0.78h-1.44v-0.78h-0.78v-1.44h0.78Z" fill="#00a84f"/>
<path d="M535.8 393.3H543.0M537.5 392.5H541.3M537.5 400.6H541.3" stroke="#222" stroke-width="0.7" fill="none"/>
<path d="M549.3 391.0V394.5" stroke="#777" stroke-width="0.7" fill="none"/>
<path d="M545.7 392.8H552.9" stroke="#555" stroke-width="0.7" fill="none"/>
<circle cx="547.9" cy="391.4" r="1.52" fill="#800080"/>
<circle cx="550.8" cy="390.8" r="1.52" fill="#800080"/>
<circle cx="549.3" cy="393.3" r="1.52" fill="#800080"/>
<circle cx="547.9" cy="393.7" r="1.52" fill="#800080"/>
<circle cx="549.8" cy="394.3" r="1.52" fill="#800080"/>
<path d="M566.0 428.5V434.0" stroke="#222" stroke-width="0.65" fill="none"/>
<path d="M563.58 427.60h1.44v0.78h0.78v1.44h-0.78v0.78h-1.44v-0.78h-0.78v-1.44h0.78Z" fill="#00a84f"/>
<path d="M566.78 426.90h1.44v0.78h0.78v1.44h-0.78v0.78h-1.44v-0.78h-0.78v-1.44h0.78Z" fill="#00a84f"/>
<path d="M564.68 429.80h1.44v0.78h0.78v1.44h-0.78v0.78h-1.44v-0.78h-0.78v-1.44h0.78Z" fill="#00a84f"/>
<path d="M567.18 430.20h1.44v0.78h0.78v1.44h-0.78v0.78h-1.44v-0.78h-0.78v-1.44h0.78Z" fill="#00a84f"/>
<path d="M564.98 433.10h1.44v0.78h0.78v1.44h-0.78v0.78h-1.44v-0.78h-0.78v-1.44h0.78Z" fill="#00a84f"/>
<path d="M565.28 440.00h1.44v0.78h0.78v1.44h-0.78v0.78h-1.44v-0.78h-0.78v-1.44h0.78Z" fill="#00a84f"/>
<path d="M562.4 430.8H569.6M564.1 428.5H567.9M564.1 434.0H567.9" stroke="#222" stroke-width="0.7" fill="none"/>
<path d="M576.1 428.0V434.0" stroke="#777" stroke-width="0.7" fill="none"/>
<path d="M572.5 431.5H579.7" stroke="#555" stroke-width="0.7" fill="none"/>
<circle cx="576.1" cy="426.9" r="1.52" fill="#800080"/>
<circle cx="573.9" cy="432.7" r="1.52" fill="#800080"/>
<circle cx="578.3" cy="431.7" r="1.52" fill="#800080"/>
<circle cx="576.1" cy="434.2" r="1.52" fill="#800080"/>
<circle cx="575.5" cy="430.5" r="1.52" fill="#800080"/>
<path d="M592.9 393.0V396.0" stroke="#222" stroke-width="0.65" fill="none"/>
<path d="M592.18 385.90h1.44v0.78h0.78v1.44h-0.78v0.78h-1.44v-0.78h-0.78v-1.44h0.78Z" fill="#00a84f"/>
<path d="M589.98 392.80h1.44v0.78h0.78v1.44h-0.78v0.78h-1.44v-0.78h-0.78v-1.44h0.78Z" fill="#00a84f"/>
<path d="M593.68 392.20h1.44v0.78h0.78v1.44h-0.78v0.78h-1.44v-0.78h-0.78v-1.44h0.78Z" fill="#00a84f"/>
<path d="M592.18 393.70h1.44v0.78h0.78v1.44h-0.78v0.78h-1.44v-0.78h-0.78v-1.44h0.78Z" fill="#00a84f"/>
<path d="M592.18 398.10h1.44v0.78h0.78v1.44h-0.78v0.78h-1.44v-0.78h-0.78v-1.44h0.78Z" fill="#00a84f"/>
<path d="M589.3 394.3H596.5" stroke="#222" stroke-width="0.7" fill="none"/>
<path d="M603.1 393.0V395.0" stroke="#777" stroke-width="0.7" fill="none"/>
<path d="M599.5 394.2H606.7" stroke="#555" stroke-width="0.7" fill="none"/>
<circle cx="601.7" cy="393.3" r="1.52" fill="#800080"/>
<circle cx="604.2" cy="393.3" r="1.52" fill="#800080"/>
<circle cx="603.1" cy="395.2" r="1.52" fill="#800080"/>
<circle cx="602.5" cy="394.2" r="1.52" fill="#800080"/>
<path d="M619.3 430.0V435.5" stroke="#555" stroke-width="0.65" fill="none"/>
<path d="M618.88 425.00h1.44v0.78h0.78v1.44h-0.78v0.78h-1.44v-0.78h-0.78v-1.44h0.78Z" fill="#00a84f"/>
<path d="M616.98 429.80h1.44v0.78h0.78v1.44h-0.78v0.78h-1.44v-0.78h-0.78v-1.44h0.78Z" fill="#00a84f"/>
<path d="M619.28 432.30h1.44v0.78h0.78v1.44h-0.78v0.78h-1.44v-0.78h-0.78v-1.44h0.78Z" fill="#00a84f"/>
<path d="M620.98 432.70h1.44v0.78h0.78v1.44h-0.78v0.78h-1.44v-0.78h-0.78v-1.44h0.78Z" fill="#00a84f"/>
<path d="M617.78 433.40h1.44v0.78h0.78v1.44h-0.78v0.78h-1.44v-0.78h-0.78v-1.44h0.78Z" fill="#00a84f"/>
<path d="M619.98 434.90h1.44v0.78h0.78v1.44h-0.78v0.78h-1.44v-0.78h-0.78v-1.44h0.78Z" fill="#00a84f"/>
<path d="M617.48 437.50h1.44v0.78h0.78v1.44h-0.78v0.78h-1.44v-0.78h-0.78v-1.44h0.78Z" fill="#00a84f"/>
<path d="M615.7 432.0H622.9M617.4 430.0H621.2M617.4 435.5H621.2" stroke="#555" stroke-width="0.7" fill="none"/>
<path d="M629.9 428.5V432.0" stroke="#777" stroke-width="0.7" fill="none"/>
<path d="M626.3 430.2H633.5" stroke="#555" stroke-width="0.7" fill="none"/>
<circle cx="628.7" cy="427.9" r="1.52" fill="#800080"/>
<circle cx="630.9" cy="429.8" r="1.52" fill="#800080"/>
<circle cx="629.4" cy="431.3" r="1.52" fill="#800080"/>
<circle cx="630.2" cy="432.7" r="1.52" fill="#800080"/>
<path d="M646.5 418.0V423.0" stroke="#222" stroke-width="0.65" fill="none"/>
<path d="M645.78 412.70h1.44v0.78h0.78v1.44h-0.78v0.78h-1.44v-0.78h-0.78v-1.44h0.78Z" fill="#00a84f"/>
<path d="M646.98 416.60h1.44v0.78h0.78v1.44h-0.78v0.78h-1.44v-0.78h-0.78v-1.44h0.78Z" fill="#00a84f"/>
<path d="M644.38 418.10h1.44v0.78h0.78v1.44h-0.78v0.78h-1.44v-0.78h-0.78v-1.44h0.78Z" fill="#00a84f"/>
<path d="M645.58 419.60h1.44v0.78h0.78v1.44h-0.78v0.78h-1.44v-0.78h-0.78v-1.44h0.78Z" fill="#00a84f"/>
<path d="M646.98 419.10h1.44v0.78h0.78v1.44h-0.78v0.78h-1.44v-0.78h-0.78v-1.44h0.78Z" fill="#00a84f"/>
<path d="M645.78 421.70h1.44v0.78h0.78v1.44h-0.78v0.78h-1.44v-0.78h-0.78v-1.44h0.78Z" fill="#00a84f"/>
<path d="M645.78 423.90h1.44v0.78h0.78v1.44h-0.78v0.78h-1.44v-0.78h-0.78v-1.44h0.78Z" fill="#00a84f"/>
<path d="M642.9 420.3H650.1M644.6 418.0H648.4M644.6 423.0H648.4" stroke="#222" stroke-width="0.7" fill="none"/>
<path d="M656.8 417.0V420.0" stroke="#777" stroke-width="0.7" fill="none"/>
<path d="M653.2 418.6H660.4" stroke="#555" stroke-width="0.7" fill="none"/>
<circle cx="655.8" cy="415.9" r="1.52" fill="#800080"/>
<circle cx="657.7" cy="418.1" r="1.52" fill="#800080"/>
<circle cx="656.5" cy="419.6" r="1.52" fill="#800080"/>
<circle cx="657.2" cy="420.3" r="1.52" fill="#800080"/>
</svg></body></html>
